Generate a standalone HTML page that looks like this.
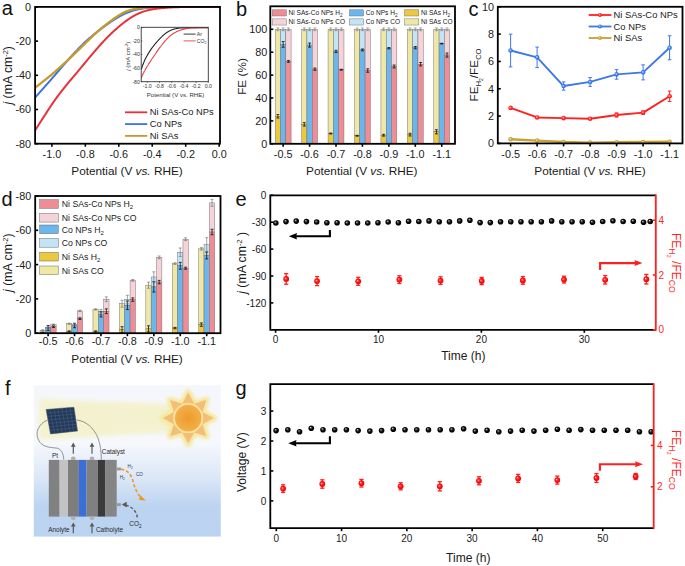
<!DOCTYPE html><html><head><meta charset="utf-8"><style>html,body{margin:0;padding:0;background:#fff;}svg{display:block;}</style></head><body><svg width="685" height="566" viewBox="0 0 685 566" font-family='"Liberation Sans", sans-serif'>
<defs>
<radialGradient id="ballg" cx="0.5" cy="0.5" r="0.5" fx="0.36" fy="0.33"><stop offset="0" stop-color="#f4f4f4"/><stop offset="0.25" stop-color="#555"/><stop offset="0.6" stop-color="#080808"/><stop offset="1" stop-color="#000"/></radialGradient>
<radialGradient id="redg" cx="0.5" cy="0.5" r="0.5" fx="0.35" fy="0.38"><stop offset="0" stop-color="#ffe8e8"/><stop offset="0.25" stop-color="#ff5050"/><stop offset="0.6" stop-color="#ff1010"/><stop offset="1" stop-color="#f00000"/></radialGradient>
<linearGradient id="skyg" x1="0" y1="0" x2="0" y2="1"><stop offset="0" stop-color="#f5f6fb"/><stop offset="0.38" stop-color="#f6f8fc"/><stop offset="0.6" stop-color="#dde8f7"/><stop offset="0.8" stop-color="#bcd4f1"/><stop offset="1" stop-color="#bad3f0"/></linearGradient>
<filter id="blur2" x="-20%" y="-50%" width="140%" height="200%"><feGaussianBlur stdDeviation="2.2"/></filter>
<filter id="blur15" x="-30%" y="-30%" width="160%" height="160%"><feGaussianBlur stdDeviation="1.8"/></filter>
<linearGradient id="beamg" x1="0" y1="0" x2="1" y2="0"><stop offset="0" stop-color="#f6f3c8" stop-opacity="0.6"/><stop offset="0.6" stop-color="#f7f0c0" stop-opacity="0.9"/><stop offset="1" stop-color="#f8eab0" stop-opacity="0.9"/></linearGradient>
<radialGradient id="halog" cx="0.5" cy="0.5" r="0.5"><stop offset="0" stop-color="#f9dc8a" stop-opacity="1"/><stop offset="0.7" stop-color="#f9e6a0" stop-opacity="0.9"/><stop offset="1" stop-color="#fbf0c0" stop-opacity="0"/></radialGradient>
<radialGradient id="sung" cx="0.5" cy="0.5" r="0.5"><stop offset="0" stop-color="#ef9a2c"/><stop offset="1" stop-color="#f3b04a"/></radialGradient>
</defs>
<rect x="0.00" y="0.00" width="685.00" height="566.00" fill="#ffffff" stroke="none" stroke-width="0" />
<rect x="33.80" y="385.30" width="187.00" height="151.30" fill="url(#skyg)" stroke="none" stroke-width="0" />
<path d="M39,399 C80,401 140,402 180,405 L180,432 C140,434 80,437 39,440 Z" stroke="none" stroke-width="1" fill="#f4f1c8" filter="url(#blur2)" opacity="0.85"/>
<g filter="url(#blur15)">
<path d="M188.20,392.60 L182.16,403.82 L194.24,403.82 Z M206.23,400.07 L194.03,403.74 L202.56,412.27 Z M213.70,418.10 L202.48,412.06 L202.48,424.14 Z M206.23,436.13 L202.56,423.93 L194.03,432.46 Z M188.20,443.60 L194.24,432.38 L182.16,432.38 Z M170.17,436.13 L182.37,432.46 L173.84,423.93 Z M162.70,418.10 L173.92,424.14 L173.92,412.06 Z M170.17,400.07 L173.84,412.27 L182.37,403.74 Z" stroke="#f5e8a0" stroke-width="6.5" fill="#f5e8a0" stroke-linejoin="round"/>
<circle cx="188.2" cy="418.1" r="18" fill="#f5e8a0"/>
</g>
<path d="M188.20,392.60 L182.16,403.82 L194.24,403.82 Z M206.23,400.07 L194.03,403.74 L202.56,412.27 Z M213.70,418.10 L202.48,412.06 L202.48,424.14 Z M206.23,436.13 L202.56,423.93 L194.03,432.46 Z M188.20,443.60 L194.24,432.38 L182.16,432.38 Z M170.17,436.13 L182.37,432.46 L173.84,423.93 Z M162.70,418.10 L173.92,424.14 L173.92,412.06 Z M170.17,400.07 L173.84,412.27 L182.37,403.74 Z" stroke="none" stroke-width="1" fill="#f3bf78" />
<circle cx="188.2" cy="418.1" r="15" fill="#f8e3a0"/>
<circle cx="188.2" cy="418.1" r="13.3" fill="url(#sung)"/>
<path d="M47.6,420 C38,424 35,433 38.5,440 C41,446 48,447.5 56,448 C61,448.5 63.5,453 63.7,459.5" stroke="#444" stroke-width="0.55" fill="none" />
<path d="M76.8,420 C86,421 94,428 98,438 C100.5,445 101.3,452 101.3,459.5" stroke="#444" stroke-width="0.55" fill="none" />
<path d="M46.1,409.5 L73.9,407.2 L77.5,431.0 L50.5,433.9 Z" stroke="#3a4d6a" stroke-width="0.5" fill="#23395a" />
<path d="M50.07,409.17 L54.36,433.49 M46.73,412.99 L74.41,410.60 M54.04,408.84 L58.21,433.07 M47.36,416.47 L74.93,414.00 M58.01,408.51 L62.07,432.66 M47.99,419.96 L75.44,417.40 M61.99,408.19 L65.93,432.24 M48.61,423.44 L75.96,420.80 M65.96,407.86 L69.79,431.83 M49.24,426.93 L76.47,424.20 M69.93,407.53 L73.64,431.41 M49.87,430.41 L76.99,427.60" stroke="#56698a" stroke-width="0.4" fill="none" />
<rect x="48.80" y="459.90" width="10.80" height="56.70" fill="#818181" stroke="none" stroke-width="0" />
<rect x="59.60" y="459.90" width="8.40" height="56.70" fill="#c3c3c3" stroke="none" stroke-width="0" />
<rect x="68.00" y="459.90" width="10.90" height="56.70" fill="#7d7d7d" stroke="none" stroke-width="0" />
<rect x="78.90" y="459.90" width="7.50" height="56.70" fill="#3a6fd8" stroke="none" stroke-width="0" />
<rect x="86.40" y="459.90" width="11.40" height="56.70" fill="#808080" stroke="none" stroke-width="0" />
<rect x="97.80" y="459.90" width="7.30" height="56.70" fill="#3a3a3a" stroke="none" stroke-width="0" />
<rect x="105.10" y="459.90" width="11.60" height="56.70" fill="#858585" stroke="none" stroke-width="0" />
<path d="M71.1,459.9 L71.1,457.4 Q73.3,455.8 75.5,457.4 L75.5,459.9 Z" stroke="none" stroke-width="1" fill="#b0b0b0" />
<path d="M71.1,516.6 L71.1,519.2 Q73.3,520.6 75.5,519.2 L75.5,516.6 Z" stroke="none" stroke-width="1" fill="#b0b0b0" />
<path d="M73.3,453.8 L73.3,445.6" stroke="#5a5a5a" stroke-width="1.2" fill="none" />
<path d="M70.89999999999999,446.8 L73.3,442.6 L75.7,446.8 Z" stroke="none" stroke-width="1" fill="#5a5a5a" />
<path d="M73.3,533.2 L73.3,525.4" stroke="#5a5a5a" stroke-width="1.2" fill="none" />
<path d="M70.89999999999999,526.6 L73.3,522.4 L75.7,526.6 Z" stroke="none" stroke-width="1" fill="#5a5a5a" />
<path d="M89.8,459.9 L89.8,457.4 Q92.0,455.8 94.2,457.4 L94.2,459.9 Z" stroke="none" stroke-width="1" fill="#b0b0b0" />
<path d="M89.8,516.6 L89.8,519.2 Q92.0,520.6 94.2,519.2 L94.2,516.6 Z" stroke="none" stroke-width="1" fill="#b0b0b0" />
<path d="M92.0,453.8 L92.0,445.6" stroke="#5a5a5a" stroke-width="1.2" fill="none" />
<path d="M89.6,446.8 L92.0,442.6 L94.4,446.8 Z" stroke="none" stroke-width="1" fill="#5a5a5a" />
<path d="M92.0,533.2 L92.0,525.4" stroke="#5a5a5a" stroke-width="1.2" fill="none" />
<path d="M89.6,526.6 L92.0,522.4 L94.4,526.6 Z" stroke="none" stroke-width="1" fill="#5a5a5a" />
<rect x="116.70" y="467.60" width="4.20" height="2.80" fill="#9a9a9a" stroke="none" stroke-width="0" />
<rect x="116.70" y="503.20" width="4.20" height="2.90" fill="#9a9a9a" stroke="none" stroke-width="0" />
<path d="M121,469.2 C127,469.8 131,474 133,481 C134.5,487 136.5,493 141,497.5" stroke="#eb9a26" stroke-width="1.6" fill="none" stroke-dasharray="3.2,2.1"/>
<path d="M140.2,495.3 L146.0,500.6 L139.0,500.0 Z" stroke="none" stroke-width="1" fill="#eb9a26" />
<path d="M137.3,517.5 C136.8,511.5 132,506.5 125.5,505.0" stroke="#5a5a5a" stroke-width="1.4" fill="none" stroke-dasharray="3,2"/>
<path d="M121.8,504.6 L126.8,501.8 L126.6,507.6 Z" stroke="none" stroke-width="1" fill="#5a5a5a" />
<text x="51.90" y="457.60" font-size="6.5" text-anchor="start" fill="#2a2a2a" >Pt</text>
<text x="101.80" y="453.60" font-size="6.4" text-anchor="start" fill="#2a2a2a" >Catalyst</text>
<text x="48.30" y="531.50" font-size="6.4" text-anchor="start" fill="#2a2a2a" >Anolyte</text>
<text x="96.00" y="531.50" font-size="6.4" text-anchor="start" fill="#2a2a2a" >Catholyte</text>
<text x="129.20" y="526.30" font-size="6.5" text-anchor="start" fill="#2a2a2a" >CO<tspan dy="1.5" font-size="4.6">2</tspan></text>
<text x="127.60" y="467.80" font-size="4.6" text-anchor="start" fill="#2c3a5a" >H<tspan dy="1" font-size="3.2">2</tspan></text>
<text x="119.70" y="479.40" font-size="4.6" text-anchor="start" fill="#2c3a5a" >H<tspan dy="1" font-size="3.2">2</tspan></text>
<text x="136.00" y="475.60" font-size="4.6" text-anchor="start" fill="#2c3a5a" >CO</text>
<clipPath id="clipa"><rect x="35.1" y="6.9" width="184.9" height="136.79999999999998"/></clipPath>
<g clip-path="url(#clipa)">
<path d="M34.50,98.20 L34.99,97.65 L35.49,97.10 L35.98,96.55 L36.47,96.00 L36.96,95.45 L37.46,94.90 L37.95,94.35 L38.44,93.80 L38.93,93.25 L39.42,92.70 L39.92,92.15 L40.41,91.60 L40.90,91.05 L41.39,90.50 L41.88,89.95 L42.37,89.40 L42.86,88.85 L43.35,88.30 L43.84,87.74 L44.33,87.19 L44.82,86.64 L45.31,86.09 L45.80,85.53 L46.29,84.98 L46.78,84.43 L47.26,83.87 L47.75,83.32 L48.24,82.76 L48.73,82.21 L49.21,81.65 L49.70,81.10 L50.19,80.54 L50.67,79.99 L51.16,79.43 L51.64,78.88 L52.13,78.32 L52.61,77.77 L53.10,77.21 L53.58,76.65 L54.07,76.09 L54.55,75.54 L55.03,74.98 L55.52,74.42 L56.00,73.86 L56.48,73.31 L56.96,72.75 L57.45,72.19 L57.93,71.63 L58.41,71.07 L58.89,70.51 L59.37,69.95 L59.85,69.39 L60.33,68.83 L60.81,68.27 L61.30,67.71 L61.78,67.15 L62.26,66.59 L62.74,66.03 L63.22,65.48 L63.71,64.92 L64.19,64.36 L64.68,63.80 L65.16,63.25 L65.65,62.69 L66.13,62.14 L66.62,61.58 L67.10,61.03 L67.59,60.47 L68.08,59.92 L68.57,59.36 L69.06,58.81 L69.55,58.26 L70.04,57.71 L70.53,57.16 L71.02,56.61 L71.51,56.06 L72.01,55.51 L72.50,54.96 L73.00,54.42 L73.50,53.87 L74.00,53.33 L74.50,52.79 L75.00,52.25 L75.50,51.71 L76.01,51.17 L76.52,50.63 L77.03,50.10 L77.54,49.57 L78.05,49.04 L78.57,48.51 L79.08,47.98 L79.60,47.46 L80.12,46.93 L80.64,46.41 L81.17,45.89 L81.69,45.37 L82.22,44.86 L82.75,44.34 L83.28,43.83 L83.81,43.32 L84.35,42.81 L84.88,42.31 L85.42,41.80 L85.97,41.30 L86.51,40.81 L87.06,40.31 L87.60,39.82 L88.16,39.33 L88.71,38.84 L89.26,38.35 L89.82,37.87 L90.38,37.39 L90.94,36.91 L91.51,36.43 L92.07,35.96 L92.64,35.49 L93.21,35.02 L93.78,34.56 L94.36,34.09 L94.93,33.63 L95.51,33.17 L96.09,32.71 L96.67,32.25 L97.25,31.80 L97.83,31.34 L98.41,30.89 L99.00,30.44 L99.58,29.99 L100.17,29.55 L100.76,29.10 L101.35,28.66 L101.94,28.22 L102.53,27.78 L103.13,27.34 L103.72,26.90 L104.32,26.47 L104.92,26.04 L105.52,25.61 L106.12,25.18 L106.72,24.75 L107.32,24.32 L107.92,23.89 L108.53,23.47 L109.13,23.05 L109.74,22.63 L110.35,22.21 L110.95,21.79 L111.57,21.38 L112.18,20.97 L112.79,20.56 L113.41,20.15 L114.02,19.75 L114.64,19.35 L115.27,18.95 L115.89,18.56 L116.52,18.17 L117.15,17.79 L117.78,17.41 L118.42,17.04 L119.06,16.67 L119.70,16.31 L120.35,15.96 L121.00,15.61 L121.65,15.27 L122.30,14.93 L122.96,14.60 L123.63,14.28 L124.29,13.96 L124.96,13.65 L125.63,13.35 L126.31,13.05 L126.99,12.76 L127.67,12.49 L128.35,12.21 L129.04,11.95 L129.73,11.70 L130.42,11.45 L131.12,11.21 L131.82,10.99 L132.52,10.77 L133.23,10.56 L133.94,10.36 L134.65,10.17 L135.36,9.99 L136.08,9.81 L136.80,9.65 L137.52,9.49 L138.24,9.34 L138.96,9.19 L139.68,9.06 L140.41,8.93 L141.14,8.80 L141.86,8.68 L142.59,8.57 L143.32,8.46 L144.05,8.35 L144.78,8.25 L145.51,8.16 L146.25,8.06 L146.98,7.97 L147.71,7.89 L148.44,7.81 L149.18,7.73 L149.91,7.66 L150.65,7.59 L151.38,7.53 L152.12,7.47 L152.85,7.42 L153.59,7.37 L154.32,7.32 L155.06,7.28 L155.80,7.24 L156.53,7.20 L157.27,7.17 L158.01,7.14 L158.75,7.11 L159.48,7.08 L160.22,7.06 L160.96,7.04 L161.70,7.02 L162.43,7.01 L163.17,6.99 L163.91,6.98 L164.65,6.96 L165.39,6.95 L166.12,6.94 L166.86,6.94 L167.60,6.93 L168.34,6.92 L169.08,6.91 L169.81,6.91 L170.55,6.90 L171.29,6.90 L172.03,6.90 L172.77,6.89 L173.50,6.89 L174.24,6.89 L174.98,6.88 L175.72,6.88 L176.46,6.88 L177.19,6.88 L177.93,6.88 L178.67,6.88 L179.41,6.88 L180.15,6.87 L180.88,6.87 L181.62,6.87 L182.36,6.87 L183.10,6.87 L183.84,6.87 L184.57,6.87 L185.31,6.87 L186.05,6.87 L186.79,6.87 L187.53,6.87 L188.26,6.87 L189.00,6.87 L189.74,6.87 L190.48,6.87 L191.22,6.87 L191.95,6.87 L192.69,6.87 L193.43,6.87 L194.17,6.87 L194.91,6.87 L195.65,6.88 L196.38,6.88 L197.12,6.88 L197.86,6.88 L198.60,6.88 L199.34,6.88 L200.07,6.88 L200.81,6.88 L201.55,6.88 L202.29,6.88 L203.03,6.88 L203.76,6.88 L204.50,6.88 L205.24,6.88 L205.98,6.89 L206.72,6.89 L207.45,6.89 L208.19,6.89 L208.93,6.89 L209.67,6.89 L210.41,6.89 L211.14,6.89 L211.88,6.89 L212.62,6.89 L213.36,6.89 L214.10,6.89 L214.83,6.90 L215.57,6.90 L216.31,6.90 L217.05,6.90 L217.79,6.90 L218.52,6.90 L219.26,6.90 L220.00,6.90" stroke="#3b74e2" stroke-width="2.0" fill="none" />
<path d="M34.50,88.20 L35.07,87.76 L35.63,87.32 L36.20,86.88 L36.76,86.44 L37.33,86.00 L37.89,85.56 L38.46,85.12 L39.02,84.68 L39.59,84.24 L40.15,83.80 L40.72,83.35 L41.28,82.91 L41.84,82.47 L42.41,82.02 L42.97,81.58 L43.53,81.13 L44.09,80.69 L44.65,80.24 L45.21,79.79 L45.77,79.35 L46.33,78.90 L46.89,78.45 L47.45,78.00 L48.00,77.55 L48.56,77.10 L49.12,76.64 L49.67,76.19 L50.23,75.74 L50.78,75.28 L51.33,74.82 L51.88,74.37 L52.43,73.91 L52.98,73.45 L53.53,72.98 L54.07,72.52 L54.62,72.05 L55.16,71.59 L55.71,71.12 L56.25,70.65 L56.79,70.18 L57.32,69.70 L57.86,69.23 L58.40,68.75 L58.93,68.27 L59.46,67.80 L60.00,67.32 L60.53,66.84 L61.06,66.35 L61.59,65.87 L62.12,65.39 L62.65,64.90 L63.17,64.42 L63.70,63.93 L64.23,63.45 L64.75,62.96 L65.28,62.47 L65.80,61.98 L66.32,61.49 L66.85,61.00 L67.37,60.51 L67.89,60.02 L68.41,59.53 L68.94,59.04 L69.46,58.55 L69.98,58.05 L70.50,57.56 L71.01,57.06 L71.53,56.57 L72.05,56.07 L72.57,55.58 L73.09,55.08 L73.60,54.59 L74.12,54.09 L74.63,53.59 L75.15,53.09 L75.66,52.59 L76.18,52.10 L76.69,51.60 L77.21,51.10 L77.72,50.60 L78.23,50.10 L78.75,49.59 L79.26,49.09 L79.77,48.59 L80.28,48.09 L80.79,47.59 L81.30,47.08 L81.81,46.58 L82.32,46.08 L82.84,45.58 L83.35,45.08 L83.86,44.57 L84.37,44.07 L84.88,43.57 L85.40,43.07 L85.91,42.57 L86.42,42.07 L86.94,41.57 L87.45,41.07 L87.97,40.57 L88.48,40.07 L89.00,39.58 L89.51,39.08 L90.03,38.58 L90.55,38.09 L91.06,37.59 L91.58,37.10 L92.10,36.60 L92.62,36.11 L93.15,35.62 L93.67,35.13 L94.19,34.64 L94.72,34.16 L95.25,33.67 L95.78,33.19 L96.31,32.71 L96.84,32.23 L97.38,31.76 L97.92,31.28 L98.46,30.81 L99.00,30.34 L99.54,29.88 L100.09,29.41 L100.64,28.95 L101.19,28.49 L101.74,28.04 L102.29,27.58 L102.85,27.13 L103.41,26.68 L103.97,26.23 L104.53,25.78 L105.09,25.34 L105.65,24.89 L106.21,24.45 L106.78,24.01 L107.35,23.57 L107.91,23.14 L108.48,22.70 L109.05,22.27 L109.62,21.83 L110.20,21.40 L110.77,20.98 L111.35,20.55 L111.93,20.13 L112.51,19.71 L113.09,19.29 L113.67,18.87 L114.25,18.46 L114.84,18.04 L115.43,17.63 L116.02,17.23 L116.61,16.83 L117.21,16.43 L117.80,16.03 L118.40,15.64 L119.01,15.26 L119.61,14.88 L120.23,14.51 L120.84,14.14 L121.46,13.78 L122.08,13.44 L122.71,13.10 L123.34,12.77 L123.98,12.46 L124.63,12.15 L125.28,11.86 L125.93,11.58 L126.59,11.32 L127.26,11.06 L127.93,10.82 L128.61,10.59 L129.29,10.38 L129.97,10.17 L130.66,9.98 L131.35,9.80 L132.04,9.63 L132.74,9.47 L133.43,9.31 L134.14,9.17 L134.84,9.04 L135.54,8.91 L136.25,8.79 L136.95,8.68 L137.66,8.57 L138.37,8.47 L139.08,8.37 L139.79,8.28 L140.50,8.19 L141.21,8.11 L141.92,8.03 L142.64,7.96 L143.35,7.89 L144.06,7.82 L144.78,7.75 L145.49,7.69 L146.20,7.62 L146.92,7.57 L147.63,7.51 L148.35,7.46 L149.06,7.40 L149.78,7.36 L150.49,7.31 L151.21,7.27 L151.92,7.23 L152.64,7.20 L153.35,7.17 L154.07,7.14 L154.78,7.12 L155.50,7.10 L156.22,7.08 L156.93,7.06 L157.65,7.05 L158.37,7.04 L159.08,7.02 L159.80,7.02 L160.51,7.01 L161.23,7.00 L161.95,6.99 L162.66,6.99 L163.38,6.98 L164.10,6.98 L164.81,6.97 L165.53,6.97 L166.25,6.96 L166.96,6.96 L167.68,6.96 L168.40,6.95 L169.11,6.95 L169.83,6.95 L170.55,6.95 L171.26,6.94 L171.98,6.94 L172.70,6.94 L173.42,6.94 L174.13,6.94 L174.85,6.93 L175.57,6.93 L176.28,6.93 L177.00,6.93 L177.72,6.93 L178.43,6.93 L179.15,6.93 L179.87,6.93 L180.58,6.92 L181.30,6.92 L182.02,6.92 L182.73,6.92 L183.45,6.92 L184.17,6.92 L184.88,6.92 L185.60,6.92 L186.32,6.92 L187.03,6.92 L187.75,6.92 L188.47,6.91 L189.18,6.91 L189.90,6.91 L190.62,6.91 L191.33,6.91 L192.05,6.91 L192.77,6.91 L193.48,6.91 L194.20,6.91 L194.92,6.91 L195.63,6.91 L196.35,6.91 L197.07,6.91 L197.78,6.91 L198.50,6.91 L199.22,6.91 L199.93,6.91 L200.65,6.91 L201.37,6.91 L202.08,6.91 L202.80,6.91 L203.52,6.91 L204.23,6.91 L204.95,6.91 L205.67,6.91 L206.38,6.91 L207.10,6.91 L207.82,6.91 L208.53,6.91 L209.25,6.91 L209.97,6.91 L210.68,6.91 L211.40,6.91 L212.12,6.90 L212.83,6.90 L213.55,6.90 L214.27,6.90 L214.98,6.90 L215.70,6.90 L216.42,6.90 L217.13,6.90 L217.85,6.90 L218.57,6.90 L219.28,6.90 L220.00,6.90" stroke="#c49b2c" stroke-width="2.3" fill="none" />
<path d="M35.10,130.40 L35.53,129.72 L35.96,129.04 L36.39,128.37 L36.82,127.69 L37.25,127.01 L37.67,126.34 L38.10,125.66 L38.53,124.98 L38.96,124.30 L39.39,123.63 L39.82,122.95 L40.26,122.27 L40.69,121.60 L41.12,120.92 L41.55,120.25 L41.98,119.57 L42.42,118.90 L42.85,118.22 L43.28,117.55 L43.72,116.87 L44.15,116.20 L44.59,115.53 L45.03,114.85 L45.46,114.18 L45.90,113.51 L46.34,112.84 L46.78,112.16 L47.21,111.49 L47.65,110.82 L48.09,110.15 L48.53,109.48 L48.97,108.81 L49.41,108.14 L49.86,107.47 L50.30,106.80 L50.75,106.14 L51.19,105.47 L51.64,104.81 L52.09,104.14 L52.54,103.48 L52.99,102.82 L53.45,102.16 L53.91,101.50 L54.37,100.84 L54.83,100.19 L55.29,99.53 L55.76,98.88 L56.23,98.23 L56.70,97.58 L57.18,96.94 L57.65,96.29 L58.13,95.65 L58.61,95.01 L59.10,94.37 L59.58,93.73 L60.07,93.09 L60.56,92.46 L61.05,91.82 L61.54,91.19 L62.04,90.56 L62.53,89.93 L63.03,89.30 L63.53,88.67 L64.03,88.04 L64.53,87.42 L65.03,86.79 L65.53,86.17 L66.04,85.55 L66.54,84.92 L67.05,84.30 L67.56,83.68 L68.07,83.07 L68.59,82.45 L69.10,81.83 L69.62,81.22 L70.13,80.61 L70.65,79.99 L71.17,79.38 L71.69,78.77 L72.20,78.16 L72.72,77.55 L73.24,76.94 L73.76,76.32 L74.28,75.71 L74.80,75.10 L75.31,74.49 L75.83,73.87 L76.35,73.26 L76.86,72.64 L77.38,72.03 L77.89,71.41 L78.40,70.80 L78.92,70.18 L79.43,69.56 L79.94,68.95 L80.45,68.33 L80.96,67.71 L81.47,67.09 L81.98,66.47 L82.49,65.86 L83.01,65.24 L83.52,64.62 L84.03,64.00 L84.54,63.38 L85.05,62.77 L85.57,62.15 L86.08,61.53 L86.59,60.92 L87.10,60.30 L87.62,59.69 L88.13,59.07 L88.65,58.45 L89.16,57.84 L89.68,57.22 L90.19,56.61 L90.71,56.00 L91.22,55.38 L91.74,54.77 L92.26,54.16 L92.78,53.54 L93.29,52.93 L93.81,52.32 L94.34,51.71 L94.86,51.10 L95.38,50.50 L95.90,49.89 L96.43,49.28 L96.96,48.68 L97.49,48.08 L98.02,47.47 L98.55,46.87 L99.08,46.27 L99.61,45.67 L100.15,45.08 L100.68,44.48 L101.22,43.89 L101.76,43.29 L102.30,42.70 L102.84,42.11 L103.38,41.52 L103.93,40.93 L104.48,40.34 L105.03,39.76 L105.58,39.18 L106.13,38.60 L106.69,38.02 L107.25,37.45 L107.81,36.88 L108.37,36.31 L108.94,35.74 L109.51,35.18 L110.09,34.62 L110.67,34.06 L111.25,33.51 L111.83,32.96 L112.42,32.41 L113.00,31.87 L113.60,31.33 L114.19,30.79 L114.79,30.25 L115.39,29.72 L115.99,29.19 L116.59,28.66 L117.19,28.13 L117.80,27.61 L118.41,27.09 L119.02,26.57 L119.63,26.05 L120.25,25.54 L120.87,25.03 L121.49,24.52 L122.11,24.02 L122.74,23.52 L123.37,23.02 L124.00,22.53 L124.64,22.05 L125.28,21.56 L125.92,21.09 L126.57,20.61 L127.22,20.14 L127.87,19.68 L128.53,19.23 L129.20,18.78 L129.86,18.33 L130.53,17.90 L131.21,17.47 L131.89,17.05 L132.58,16.64 L133.27,16.23 L133.97,15.84 L134.67,15.46 L135.38,15.08 L136.09,14.71 L136.80,14.36 L137.52,14.01 L138.25,13.67 L138.98,13.34 L139.71,13.02 L140.45,12.72 L141.19,12.42 L141.94,12.13 L142.69,11.86 L143.45,11.59 L144.21,11.34 L144.97,11.09 L145.73,10.86 L146.50,10.64 L147.27,10.43 L148.05,10.23 L148.82,10.04 L149.60,9.86 L150.39,9.69 L151.17,9.54 L151.96,9.39 L152.75,9.26 L153.54,9.13 L154.33,9.01 L155.12,8.90 L155.92,8.80 L156.71,8.70 L157.51,8.60 L158.31,8.51 L159.10,8.43 L159.90,8.34 L160.70,8.26 L161.50,8.19 L162.29,8.11 L163.09,8.04 L163.89,7.97 L164.69,7.91 L165.49,7.84 L166.29,7.78 L167.09,7.72 L167.89,7.66 L168.69,7.61 L169.49,7.55 L170.29,7.50 L171.09,7.45 L171.89,7.41 L172.69,7.37 L173.49,7.33 L174.29,7.29 L175.09,7.26 L175.90,7.23 L176.70,7.20 L177.50,7.18 L178.30,7.15 L179.10,7.13 L179.90,7.12 L180.70,7.10 L181.51,7.09 L182.31,7.07 L183.11,7.06 L183.91,7.05 L184.71,7.04 L185.52,7.03 L186.32,7.02 L187.12,7.02 L187.92,7.01 L188.72,7.00 L189.53,7.00 L190.33,6.99 L191.13,6.99 L191.93,6.98 L192.73,6.98 L193.54,6.97 L194.34,6.97 L195.14,6.97 L195.94,6.96 L196.74,6.96 L197.55,6.96 L198.35,6.95 L199.15,6.95 L199.95,6.95 L200.75,6.95 L201.55,6.94 L202.36,6.94 L203.16,6.94 L203.96,6.94 L204.76,6.94 L205.56,6.93 L206.37,6.93 L207.17,6.93 L207.97,6.93 L208.77,6.93 L209.57,6.92 L210.38,6.92 L211.18,6.92 L211.98,6.92 L212.78,6.92 L213.58,6.92 L214.39,6.91 L215.19,6.91 L215.99,6.91 L216.79,6.91 L217.59,6.91 L218.40,6.90 L219.20,6.90 L220.00,6.90" stroke="#e8313a" stroke-width="2.0" fill="none" />
</g>
<rect x="35.10" y="6.90" width="184.90" height="136.80" fill="none" stroke="#000" stroke-width="1.8" />
<line x1="35.10" y1="6.90" x2="38.10" y2="6.90" stroke="#000" stroke-width="1.6" />
<text x="31.00" y="10.80" font-size="10.8" text-anchor="end" fill="#1a1a1a" >0</text>
<line x1="35.10" y1="41.10" x2="38.10" y2="41.10" stroke="#000" stroke-width="1.6" />
<text x="31.00" y="45.00" font-size="10.8" text-anchor="end" fill="#1a1a1a" >-20</text>
<line x1="35.10" y1="75.30" x2="38.10" y2="75.30" stroke="#000" stroke-width="1.6" />
<text x="31.00" y="79.20" font-size="10.8" text-anchor="end" fill="#1a1a1a" >-40</text>
<line x1="35.10" y1="109.50" x2="38.10" y2="109.50" stroke="#000" stroke-width="1.6" />
<text x="31.00" y="113.40" font-size="10.8" text-anchor="end" fill="#1a1a1a" >-60</text>
<line x1="35.10" y1="143.70" x2="38.10" y2="143.70" stroke="#000" stroke-width="1.6" />
<text x="31.00" y="147.60" font-size="10.8" text-anchor="end" fill="#1a1a1a" >-80</text>
<line x1="51.90" y1="143.70" x2="51.90" y2="146.70" stroke="#000" stroke-width="1.6" />
<text x="51.90" y="157.60" font-size="10.8" text-anchor="middle" fill="#1a1a1a" >-1.0</text>
<line x1="85.35" y1="143.70" x2="85.35" y2="146.70" stroke="#000" stroke-width="1.6" />
<text x="85.35" y="157.60" font-size="10.8" text-anchor="middle" fill="#1a1a1a" >-0.8</text>
<line x1="118.80" y1="143.70" x2="118.80" y2="146.70" stroke="#000" stroke-width="1.6" />
<text x="118.80" y="157.60" font-size="10.8" text-anchor="middle" fill="#1a1a1a" >-0.6</text>
<line x1="152.25" y1="143.70" x2="152.25" y2="146.70" stroke="#000" stroke-width="1.6" />
<text x="152.25" y="157.60" font-size="10.8" text-anchor="middle" fill="#1a1a1a" >-0.4</text>
<line x1="185.70" y1="143.70" x2="185.70" y2="146.70" stroke="#000" stroke-width="1.6" />
<text x="185.70" y="157.60" font-size="10.8" text-anchor="middle" fill="#1a1a1a" >-0.2</text>
<line x1="219.15" y1="143.70" x2="219.15" y2="146.70" stroke="#000" stroke-width="1.6" />
<text x="219.15" y="157.60" font-size="10.8" text-anchor="middle" fill="#1a1a1a" >0.0</text>
<text x="127.00" y="174.80" font-size="11.8" text-anchor="middle" fill="#1a1a1a" >Potential (V <tspan font-style="italic">vs.</tspan> RHE)</text>
<text transform="translate(12.3,75.3) rotate(-90)" font-size="12.3" text-anchor="middle" fill="#1a1a1a"><tspan font-style="italic">j</tspan> (mA cm<tspan dy="-4.4" font-size="7.4">-2</tspan><tspan dy="4.4">)</tspan></text>
<line x1="125.00" y1="112.30" x2="147.30" y2="112.30" stroke="#e8313a" stroke-width="1.8" />
<text x="149.80" y="115.40" font-size="9.35" text-anchor="start" fill="#1a1a1a" >Ni SAs-Co NPs</text>
<line x1="125.00" y1="124.10" x2="147.30" y2="124.10" stroke="#3b74e2" stroke-width="1.8" />
<text x="149.80" y="127.20" font-size="9.35" text-anchor="start" fill="#1a1a1a" >Co NPs</text>
<line x1="125.00" y1="135.90" x2="147.30" y2="135.90" stroke="#c49b2c" stroke-width="1.8" />
<text x="149.80" y="139.00" font-size="9.35" text-anchor="start" fill="#1a1a1a" >Ni SAs</text>
<clipPath id="clipi"><rect x="141.2" y="27.3" width="67.10000000000002" height="54.400000000000006"/></clipPath>
<g clip-path="url(#clipi)">
<path d="M141.00,69.80 L141.10,69.52 L141.21,69.25 L141.31,68.97 L141.41,68.69 L141.52,68.41 L141.62,68.14 L141.72,67.86 L141.83,67.58 L141.93,67.30 L142.03,67.03 L142.14,66.75 L142.24,66.47 L142.35,66.19 L142.45,65.92 L142.55,65.64 L142.66,65.36 L142.76,65.09 L142.87,64.81 L142.97,64.53 L143.08,64.26 L143.19,63.98 L143.29,63.71 L143.40,63.43 L143.51,63.15 L143.62,62.88 L143.73,62.60 L143.84,62.33 L143.95,62.06 L144.07,61.78 L144.18,61.51 L144.30,61.24 L144.41,60.97 L144.53,60.69 L144.65,60.42 L144.77,60.15 L144.89,59.88 L145.01,59.61 L145.14,59.35 L145.26,59.08 L145.39,58.81 L145.52,58.54 L145.65,58.28 L145.78,58.01 L145.92,57.75 L146.05,57.49 L146.19,57.23 L146.33,56.96 L146.47,56.70 L146.61,56.44 L146.75,56.18 L146.89,55.92 L147.04,55.67 L147.18,55.41 L147.33,55.15 L147.48,54.90 L147.63,54.64 L147.78,54.39 L147.93,54.13 L148.08,53.88 L148.23,53.62 L148.39,53.37 L148.54,53.12 L148.70,52.87 L148.86,52.62 L149.01,52.37 L149.17,52.12 L149.33,51.87 L149.49,51.62 L149.65,51.37 L149.81,51.12 L149.98,50.88 L150.14,50.63 L150.30,50.38 L150.47,50.14 L150.64,49.89 L150.80,49.65 L150.97,49.40 L151.14,49.16 L151.31,48.92 L151.48,48.68 L151.65,48.44 L151.82,48.19 L152.00,47.96 L152.17,47.72 L152.35,47.48 L152.53,47.24 L152.70,47.01 L152.88,46.77 L153.06,46.53 L153.24,46.30 L153.42,46.07 L153.61,45.83 L153.79,45.60 L153.97,45.37 L154.16,45.14 L154.35,44.91 L154.53,44.68 L154.72,44.45 L154.91,44.22 L155.09,43.99 L155.28,43.76 L155.47,43.53 L155.66,43.31 L155.85,43.08 L156.04,42.85 L156.23,42.63 L156.42,42.40 L156.62,42.18 L156.81,41.95 L157.00,41.73 L157.20,41.51 L157.39,41.28 L157.59,41.06 L157.79,40.84 L157.98,40.62 L158.18,40.40 L158.38,40.18 L158.58,39.96 L158.78,39.74 L158.98,39.53 L159.18,39.31 L159.38,39.09 L159.59,38.88 L159.79,38.67 L160.00,38.45 L160.20,38.24 L160.41,38.03 L160.62,37.82 L160.83,37.61 L161.04,37.40 L161.25,37.19 L161.46,36.98 L161.67,36.78 L161.88,36.57 L162.10,36.37 L162.31,36.17 L162.53,35.96 L162.74,35.76 L162.96,35.56 L163.18,35.36 L163.40,35.17 L163.62,34.97 L163.85,34.78 L164.07,34.58 L164.30,34.39 L164.52,34.20 L164.75,34.02 L164.98,33.83 L165.21,33.65 L165.45,33.47 L165.68,33.29 L165.92,33.11 L166.16,32.94 L166.40,32.77 L166.64,32.60 L166.89,32.43 L167.13,32.27 L167.38,32.11 L167.63,31.95 L167.88,31.80 L168.14,31.65 L168.39,31.50 L168.65,31.36 L168.91,31.22 L169.17,31.08 L169.43,30.94 L169.69,30.81 L169.96,30.68 L170.23,30.55 L170.49,30.43 L170.76,30.31 L171.04,30.19 L171.31,30.08 L171.58,29.97 L171.86,29.86 L172.13,29.76 L172.41,29.66 L172.69,29.56 L172.97,29.47 L173.25,29.38 L173.53,29.29 L173.81,29.20 L174.10,29.12 L174.38,29.04 L174.67,28.97 L174.95,28.89 L175.24,28.82 L175.53,28.76 L175.82,28.69 L176.10,28.63 L176.39,28.56 L176.68,28.51 L176.97,28.45 L177.26,28.40 L177.55,28.34 L177.84,28.30 L178.14,28.25 L178.43,28.21 L178.72,28.17 L179.01,28.13 L179.30,28.10 L179.60,28.07 L179.89,28.04 L180.19,28.02 L180.48,28.00 L180.78,27.98 L181.07,27.97 L181.37,27.95 L181.66,27.94 L181.96,27.93 L182.25,27.92 L182.55,27.91 L182.84,27.90 L183.14,27.89 L183.44,27.89 L183.73,27.88 L184.03,27.88 L184.32,27.87 L184.62,27.87 L184.91,27.86 L185.21,27.86 L185.51,27.85 L185.80,27.85 L186.10,27.85 L186.39,27.84 L186.69,27.84 L186.99,27.84 L187.28,27.83 L187.58,27.83 L187.87,27.83 L188.17,27.82 L188.47,27.82 L188.76,27.82 L189.06,27.82 L189.35,27.81 L189.65,27.81 L189.95,27.81 L190.24,27.81 L190.54,27.80 L190.83,27.80 L191.13,27.80 L191.43,27.80 L191.72,27.80 L192.02,27.79 L192.32,27.79 L192.61,27.79 L192.91,27.79 L193.20,27.78 L193.50,27.78 L193.80,27.78 L194.09,27.78 L194.39,27.78 L194.68,27.78 L194.98,27.77 L195.28,27.77 L195.57,27.77 L195.87,27.77 L196.16,27.77 L196.46,27.76 L196.76,27.76 L197.05,27.76 L197.35,27.76 L197.64,27.76 L197.94,27.76 L198.24,27.75 L198.53,27.75 L198.83,27.75 L199.12,27.75 L199.42,27.75 L199.72,27.75 L200.01,27.75 L200.31,27.74 L200.60,27.74 L200.90,27.74 L201.20,27.74 L201.49,27.74 L201.79,27.74 L202.08,27.73 L202.38,27.73 L202.68,27.73 L202.97,27.73 L203.27,27.73 L203.56,27.73 L203.86,27.73 L204.16,27.72 L204.45,27.72 L204.75,27.72 L205.04,27.72 L205.34,27.72 L205.64,27.72 L205.93,27.71 L206.23,27.71 L206.52,27.71 L206.82,27.71 L207.12,27.71 L207.41,27.71 L207.71,27.70 L208.00,27.70 L208.30,27.70" stroke="#222" stroke-width="1.1" fill="none" />
<path d="M141.00,78.20 L141.13,77.92 L141.26,77.65 L141.40,77.37 L141.53,77.09 L141.66,76.82 L141.79,76.54 L141.92,76.26 L142.06,75.99 L142.19,75.71 L142.32,75.43 L142.45,75.16 L142.59,74.88 L142.72,74.61 L142.85,74.33 L142.99,74.05 L143.12,73.78 L143.26,73.50 L143.39,73.23 L143.53,72.95 L143.67,72.68 L143.80,72.41 L143.94,72.13 L144.08,71.86 L144.22,71.59 L144.36,71.31 L144.50,71.04 L144.65,70.77 L144.79,70.50 L144.94,70.23 L145.08,69.96 L145.23,69.69 L145.38,69.43 L145.53,69.16 L145.68,68.89 L145.83,68.63 L145.98,68.36 L146.14,68.10 L146.29,67.83 L146.45,67.57 L146.61,67.30 L146.76,67.04 L146.92,66.78 L147.08,66.52 L147.24,66.26 L147.40,66.00 L147.57,65.74 L147.73,65.48 L147.89,65.22 L148.05,64.96 L148.22,64.70 L148.38,64.44 L148.55,64.18 L148.71,63.92 L148.88,63.67 L149.04,63.41 L149.21,63.15 L149.38,62.89 L149.54,62.63 L149.71,62.38 L149.88,62.12 L150.04,61.86 L150.21,61.61 L150.38,61.35 L150.54,61.09 L150.71,60.84 L150.88,60.58 L151.05,60.32 L151.21,60.07 L151.38,59.81 L151.55,59.55 L151.72,59.30 L151.89,59.04 L152.06,58.78 L152.23,58.53 L152.39,58.27 L152.56,58.02 L152.73,57.76 L152.90,57.51 L153.08,57.25 L153.25,57.00 L153.42,56.74 L153.59,56.49 L153.76,56.24 L153.93,55.98 L154.10,55.73 L154.28,55.48 L154.45,55.22 L154.62,54.97 L154.79,54.72 L154.97,54.46 L155.14,54.21 L155.31,53.96 L155.49,53.70 L155.66,53.45 L155.84,53.20 L156.01,52.95 L156.18,52.70 L156.36,52.44 L156.53,52.19 L156.71,51.94 L156.88,51.69 L157.06,51.44 L157.23,51.19 L157.41,50.94 L157.59,50.68 L157.76,50.43 L157.94,50.18 L158.12,49.93 L158.29,49.68 L158.47,49.43 L158.65,49.18 L158.83,48.93 L159.01,48.69 L159.19,48.44 L159.37,48.19 L159.55,47.94 L159.73,47.69 L159.91,47.45 L160.09,47.20 L160.27,46.95 L160.46,46.71 L160.64,46.46 L160.83,46.22 L161.01,45.97 L161.20,45.73 L161.38,45.49 L161.57,45.24 L161.76,45.00 L161.94,44.76 L162.13,44.52 L162.32,44.28 L162.51,44.04 L162.70,43.79 L162.89,43.56 L163.08,43.32 L163.28,43.08 L163.47,42.84 L163.66,42.60 L163.86,42.37 L164.05,42.13 L164.25,41.89 L164.45,41.66 L164.65,41.43 L164.85,41.19 L165.05,40.96 L165.25,40.73 L165.45,40.50 L165.66,40.27 L165.86,40.05 L166.07,39.82 L166.28,39.60 L166.48,39.37 L166.70,39.15 L166.91,38.93 L167.12,38.71 L167.34,38.49 L167.55,38.28 L167.77,38.06 L167.99,37.85 L168.21,37.63 L168.43,37.42 L168.65,37.21 L168.88,37.00 L169.10,36.80 L169.33,36.59 L169.56,36.39 L169.79,36.19 L170.03,35.99 L170.26,35.79 L170.50,35.60 L170.73,35.41 L170.97,35.22 L171.21,35.03 L171.46,34.84 L171.70,34.66 L171.95,34.48 L172.20,34.30 L172.45,34.12 L172.70,33.95 L172.95,33.78 L173.21,33.61 L173.46,33.44 L173.72,33.28 L173.98,33.12 L174.25,32.96 L174.51,32.81 L174.78,32.66 L175.04,32.51 L175.31,32.36 L175.58,32.22 L175.85,32.08 L176.12,31.94 L176.40,31.80 L176.67,31.67 L176.95,31.54 L177.23,31.41 L177.51,31.28 L177.79,31.16 L178.07,31.04 L178.35,30.92 L178.63,30.81 L178.92,30.70 L179.21,30.59 L179.49,30.48 L179.78,30.38 L180.07,30.27 L180.36,30.17 L180.65,30.08 L180.94,29.98 L181.23,29.89 L181.52,29.80 L181.82,29.71 L182.11,29.63 L182.41,29.55 L182.70,29.47 L183.00,29.39 L183.29,29.31 L183.59,29.24 L183.89,29.17 L184.19,29.10 L184.49,29.03 L184.78,28.96 L185.08,28.90 L185.38,28.84 L185.68,28.78 L185.99,28.72 L186.29,28.66 L186.59,28.61 L186.89,28.56 L187.19,28.51 L187.49,28.46 L187.80,28.41 L188.10,28.37 L188.40,28.32 L188.71,28.28 L189.01,28.24 L189.31,28.20 L189.62,28.17 L189.92,28.14 L190.23,28.11 L190.53,28.08 L190.84,28.05 L191.14,28.03 L191.45,28.01 L191.75,27.99 L192.06,27.97 L192.36,27.95 L192.67,27.94 L192.98,27.92 L193.28,27.91 L193.59,27.90 L193.90,27.89 L194.20,27.88 L194.51,27.87 L194.81,27.86 L195.12,27.86 L195.43,27.85 L195.73,27.84 L196.04,27.84 L196.35,27.83 L196.65,27.83 L196.96,27.82 L197.27,27.82 L197.57,27.81 L197.88,27.81 L198.19,27.80 L198.49,27.80 L198.80,27.80 L199.10,27.79 L199.41,27.79 L199.72,27.78 L200.02,27.78 L200.33,27.78 L200.64,27.77 L200.94,27.77 L201.25,27.77 L201.56,27.76 L201.86,27.76 L202.17,27.76 L202.48,27.76 L202.78,27.75 L203.09,27.75 L203.40,27.75 L203.70,27.74 L204.01,27.74 L204.32,27.74 L204.62,27.73 L204.93,27.73 L205.23,27.73 L205.54,27.73 L205.85,27.72 L206.15,27.72 L206.46,27.72 L206.77,27.71 L207.07,27.71 L207.38,27.71 L207.69,27.71 L207.99,27.70 L208.30,27.70" stroke="#ee3a42" stroke-width="1.1" fill="none" />
</g>
<rect x="141.20" y="27.30" width="67.10" height="54.40" fill="none" stroke="#333" stroke-width="0.9" />
<line x1="141.20" y1="27.30" x2="142.40" y2="27.30" stroke="#333" stroke-width="0.7" />
<text x="139.90" y="29.20" font-size="5.2" text-anchor="end" fill="#333" >0</text>
<line x1="141.20" y1="40.90" x2="142.40" y2="40.90" stroke="#333" stroke-width="0.7" />
<text x="139.90" y="42.80" font-size="5.2" text-anchor="end" fill="#333" >-20</text>
<line x1="141.20" y1="54.50" x2="142.40" y2="54.50" stroke="#333" stroke-width="0.7" />
<text x="139.90" y="56.40" font-size="5.2" text-anchor="end" fill="#333" >-40</text>
<line x1="141.20" y1="68.10" x2="142.40" y2="68.10" stroke="#333" stroke-width="0.7" />
<text x="139.90" y="70.00" font-size="5.2" text-anchor="end" fill="#333" >-60</text>
<line x1="141.20" y1="81.70" x2="142.40" y2="81.70" stroke="#333" stroke-width="0.7" />
<text x="139.90" y="83.60" font-size="5.2" text-anchor="end" fill="#333" >-80</text>
<line x1="147.30" y1="81.70" x2="147.30" y2="82.90" stroke="#333" stroke-width="0.7" />
<text x="147.30" y="87.60" font-size="5.2" text-anchor="middle" fill="#333" >-1.0</text>
<line x1="159.50" y1="81.70" x2="159.50" y2="82.90" stroke="#333" stroke-width="0.7" />
<text x="159.50" y="87.60" font-size="5.2" text-anchor="middle" fill="#333" >-0.8</text>
<line x1="171.70" y1="81.70" x2="171.70" y2="82.90" stroke="#333" stroke-width="0.7" />
<text x="171.70" y="87.60" font-size="5.2" text-anchor="middle" fill="#333" >-0.6</text>
<line x1="183.90" y1="81.70" x2="183.90" y2="82.90" stroke="#333" stroke-width="0.7" />
<text x="183.90" y="87.60" font-size="5.2" text-anchor="middle" fill="#333" >-0.4</text>
<line x1="196.10" y1="81.70" x2="196.10" y2="82.90" stroke="#333" stroke-width="0.7" />
<text x="196.10" y="87.60" font-size="5.2" text-anchor="middle" fill="#333" >-0.2</text>
<line x1="208.30" y1="81.70" x2="208.30" y2="82.90" stroke="#333" stroke-width="0.7" />
<text x="208.30" y="87.60" font-size="5.2" text-anchor="middle" fill="#333" >0.0</text>
<text x="175.50" y="96.50" font-size="6.1" text-anchor="middle" fill="#333" >Potential (V vs. RHE)</text>
<text transform="translate(130.0,56.2) rotate(-90)" font-size="6.0" text-anchor="middle" fill="#333"><tspan font-style="italic">j</tspan> (mA cm<tspan dy="-2.2" font-size="4">-2</tspan><tspan dy="2.2">)</tspan></text>
<line x1="183.60" y1="34.10" x2="195.60" y2="34.10" stroke="#222" stroke-width="0.9" />
<line x1="183.60" y1="40.90" x2="195.60" y2="40.90" stroke="#ee4046" stroke-width="0.9" />
<text x="196.80" y="36.00" font-size="5.2" text-anchor="start" fill="#333" >Ar</text>
<text x="196.80" y="42.80" font-size="5.2" text-anchor="start" fill="#333" >CO<tspan dy="1" font-size="3.6">2</tspan></text>
<rect x="275.20" y="29.30" width="5.30" height="87.02" fill="#efe7a6" stroke="#6a6a6a" stroke-width="0.45" />
<rect x="275.20" y="116.32" width="5.30" height="27.48" fill="#ecc83c" stroke="#6a6a6a" stroke-width="0.45" />
<line x1="277.85" y1="114.60" x2="277.85" y2="118.04" stroke="#111" stroke-width="0.8" />
<line x1="276.35" y1="114.60" x2="279.35" y2="114.60" stroke="#111" stroke-width="0.8" />
<line x1="276.35" y1="118.04" x2="279.35" y2="118.04" stroke="#111" stroke-width="0.8" />
<line x1="277.85" y1="27.93" x2="277.85" y2="30.67" stroke="#777" stroke-width="0.6" />
<line x1="276.35" y1="27.93" x2="279.35" y2="27.93" stroke="#777" stroke-width="0.6" />
<line x1="276.35" y1="30.67" x2="279.35" y2="30.67" stroke="#777" stroke-width="0.6" />
<rect x="280.50" y="29.30" width="5.30" height="15.11" fill="#c2e4f6" stroke="#6a6a6a" stroke-width="0.45" />
<rect x="280.50" y="44.41" width="5.30" height="99.39" fill="#6cb6ee" stroke="#6a6a6a" stroke-width="0.45" />
<line x1="283.15" y1="41.55" x2="283.15" y2="47.28" stroke="#111" stroke-width="0.8" />
<line x1="281.65" y1="41.55" x2="284.65" y2="41.55" stroke="#111" stroke-width="0.8" />
<line x1="281.65" y1="47.28" x2="284.65" y2="47.28" stroke="#111" stroke-width="0.8" />
<line x1="283.15" y1="27.93" x2="283.15" y2="30.67" stroke="#777" stroke-width="0.6" />
<line x1="281.65" y1="27.93" x2="284.65" y2="27.93" stroke="#777" stroke-width="0.6" />
<line x1="281.65" y1="30.67" x2="284.65" y2="30.67" stroke="#777" stroke-width="0.6" />
<rect x="285.80" y="29.30" width="5.30" height="32.06" fill="#f5d3d8" stroke="#6a6a6a" stroke-width="0.45" />
<rect x="285.80" y="61.36" width="5.30" height="82.44" fill="#ef8d94" stroke="#6a6a6a" stroke-width="0.45" />
<line x1="288.45" y1="60.44" x2="288.45" y2="62.28" stroke="#111" stroke-width="0.8" />
<line x1="286.95" y1="60.44" x2="289.95" y2="60.44" stroke="#111" stroke-width="0.8" />
<line x1="286.95" y1="62.28" x2="289.95" y2="62.28" stroke="#111" stroke-width="0.8" />
<line x1="288.45" y1="27.93" x2="288.45" y2="30.67" stroke="#777" stroke-width="0.6" />
<line x1="286.95" y1="27.93" x2="289.95" y2="27.93" stroke="#777" stroke-width="0.6" />
<line x1="286.95" y1="30.67" x2="289.95" y2="30.67" stroke="#777" stroke-width="0.6" />
<rect x="301.63" y="29.30" width="5.30" height="95.03" fill="#efe7a6" stroke="#6a6a6a" stroke-width="0.45" />
<rect x="301.63" y="124.34" width="5.30" height="19.47" fill="#ecc83c" stroke="#6a6a6a" stroke-width="0.45" />
<line x1="304.28" y1="122.62" x2="304.28" y2="126.05" stroke="#111" stroke-width="0.8" />
<line x1="302.78" y1="122.62" x2="305.78" y2="122.62" stroke="#111" stroke-width="0.8" />
<line x1="302.78" y1="126.05" x2="305.78" y2="126.05" stroke="#111" stroke-width="0.8" />
<line x1="304.28" y1="27.93" x2="304.28" y2="30.67" stroke="#777" stroke-width="0.6" />
<line x1="302.78" y1="27.93" x2="305.78" y2="27.93" stroke="#777" stroke-width="0.6" />
<line x1="302.78" y1="30.67" x2="305.78" y2="30.67" stroke="#777" stroke-width="0.6" />
<rect x="306.93" y="29.30" width="5.30" height="15.80" fill="#c2e4f6" stroke="#6a6a6a" stroke-width="0.45" />
<rect x="306.93" y="45.10" width="5.30" height="98.70" fill="#6cb6ee" stroke="#6a6a6a" stroke-width="0.45" />
<line x1="309.58" y1="43.04" x2="309.58" y2="47.16" stroke="#111" stroke-width="0.8" />
<line x1="308.08" y1="43.04" x2="311.08" y2="43.04" stroke="#111" stroke-width="0.8" />
<line x1="308.08" y1="47.16" x2="311.08" y2="47.16" stroke="#111" stroke-width="0.8" />
<line x1="309.58" y1="27.93" x2="309.58" y2="30.67" stroke="#777" stroke-width="0.6" />
<line x1="308.08" y1="27.93" x2="311.08" y2="27.93" stroke="#777" stroke-width="0.6" />
<line x1="308.08" y1="30.67" x2="311.08" y2="30.67" stroke="#777" stroke-width="0.6" />
<rect x="312.23" y="29.30" width="5.30" height="39.85" fill="#f5d3d8" stroke="#6a6a6a" stroke-width="0.45" />
<rect x="312.23" y="69.15" width="5.30" height="74.65" fill="#ef8d94" stroke="#6a6a6a" stroke-width="0.45" />
<line x1="314.88" y1="68.00" x2="314.88" y2="70.29" stroke="#111" stroke-width="0.8" />
<line x1="313.38" y1="68.00" x2="316.38" y2="68.00" stroke="#111" stroke-width="0.8" />
<line x1="313.38" y1="70.29" x2="316.38" y2="70.29" stroke="#111" stroke-width="0.8" />
<line x1="314.88" y1="27.93" x2="314.88" y2="30.67" stroke="#777" stroke-width="0.6" />
<line x1="313.38" y1="27.93" x2="316.38" y2="27.93" stroke="#777" stroke-width="0.6" />
<line x1="313.38" y1="30.67" x2="316.38" y2="30.67" stroke="#777" stroke-width="0.6" />
<rect x="328.06" y="29.30" width="5.30" height="104.19" fill="#efe7a6" stroke="#6a6a6a" stroke-width="0.45" />
<rect x="328.06" y="133.50" width="5.30" height="10.31" fill="#ecc83c" stroke="#6a6a6a" stroke-width="0.45" />
<line x1="330.71" y1="133.04" x2="330.71" y2="133.95" stroke="#111" stroke-width="0.8" />
<line x1="329.21" y1="133.04" x2="332.21" y2="133.04" stroke="#111" stroke-width="0.8" />
<line x1="329.21" y1="133.95" x2="332.21" y2="133.95" stroke="#111" stroke-width="0.8" />
<line x1="330.71" y1="27.93" x2="330.71" y2="30.67" stroke="#777" stroke-width="0.6" />
<line x1="329.21" y1="27.93" x2="332.21" y2="27.93" stroke="#777" stroke-width="0.6" />
<line x1="329.21" y1="30.67" x2="332.21" y2="30.67" stroke="#777" stroke-width="0.6" />
<rect x="333.36" y="29.30" width="5.30" height="22.10" fill="#c2e4f6" stroke="#6a6a6a" stroke-width="0.45" />
<rect x="333.36" y="51.40" width="5.30" height="92.40" fill="#6cb6ee" stroke="#6a6a6a" stroke-width="0.45" />
<line x1="336.01" y1="50.25" x2="336.01" y2="52.54" stroke="#111" stroke-width="0.8" />
<line x1="334.51" y1="50.25" x2="337.51" y2="50.25" stroke="#111" stroke-width="0.8" />
<line x1="334.51" y1="52.54" x2="337.51" y2="52.54" stroke="#111" stroke-width="0.8" />
<line x1="336.01" y1="27.93" x2="336.01" y2="30.67" stroke="#777" stroke-width="0.6" />
<line x1="334.51" y1="27.93" x2="337.51" y2="27.93" stroke="#777" stroke-width="0.6" />
<line x1="334.51" y1="30.67" x2="337.51" y2="30.67" stroke="#777" stroke-width="0.6" />
<rect x="338.66" y="29.30" width="5.30" height="40.42" fill="#f5d3d8" stroke="#6a6a6a" stroke-width="0.45" />
<rect x="338.66" y="69.72" width="5.30" height="74.08" fill="#ef8d94" stroke="#6a6a6a" stroke-width="0.45" />
<line x1="341.31" y1="69.26" x2="341.31" y2="70.18" stroke="#111" stroke-width="0.8" />
<line x1="339.81" y1="69.26" x2="342.81" y2="69.26" stroke="#111" stroke-width="0.8" />
<line x1="339.81" y1="70.18" x2="342.81" y2="70.18" stroke="#111" stroke-width="0.8" />
<line x1="341.31" y1="27.93" x2="341.31" y2="30.67" stroke="#777" stroke-width="0.6" />
<line x1="339.81" y1="27.93" x2="342.81" y2="27.93" stroke="#777" stroke-width="0.6" />
<line x1="339.81" y1="30.67" x2="342.81" y2="30.67" stroke="#777" stroke-width="0.6" />
<rect x="354.49" y="29.30" width="5.30" height="106.49" fill="#efe7a6" stroke="#6a6a6a" stroke-width="0.45" />
<rect x="354.49" y="135.79" width="5.30" height="8.01" fill="#ecc83c" stroke="#6a6a6a" stroke-width="0.45" />
<line x1="357.14" y1="135.33" x2="357.14" y2="136.24" stroke="#111" stroke-width="0.8" />
<line x1="355.64" y1="135.33" x2="358.64" y2="135.33" stroke="#111" stroke-width="0.8" />
<line x1="355.64" y1="136.24" x2="358.64" y2="136.24" stroke="#111" stroke-width="0.8" />
<line x1="357.14" y1="27.93" x2="357.14" y2="30.67" stroke="#777" stroke-width="0.6" />
<line x1="355.64" y1="27.93" x2="358.64" y2="27.93" stroke="#777" stroke-width="0.6" />
<line x1="355.64" y1="30.67" x2="358.64" y2="30.67" stroke="#777" stroke-width="0.6" />
<rect x="359.79" y="29.30" width="5.30" height="20.61" fill="#c2e4f6" stroke="#6a6a6a" stroke-width="0.45" />
<rect x="359.79" y="49.91" width="5.30" height="93.89" fill="#6cb6ee" stroke="#6a6a6a" stroke-width="0.45" />
<line x1="362.44" y1="48.99" x2="362.44" y2="50.83" stroke="#111" stroke-width="0.8" />
<line x1="360.94" y1="48.99" x2="363.94" y2="48.99" stroke="#111" stroke-width="0.8" />
<line x1="360.94" y1="50.83" x2="363.94" y2="50.83" stroke="#111" stroke-width="0.8" />
<line x1="362.44" y1="27.93" x2="362.44" y2="30.67" stroke="#777" stroke-width="0.6" />
<line x1="360.94" y1="27.93" x2="363.94" y2="27.93" stroke="#777" stroke-width="0.6" />
<line x1="360.94" y1="30.67" x2="363.94" y2="30.67" stroke="#777" stroke-width="0.6" />
<rect x="365.09" y="29.30" width="5.30" height="41.22" fill="#f5d3d8" stroke="#6a6a6a" stroke-width="0.45" />
<rect x="365.09" y="70.52" width="5.30" height="73.28" fill="#ef8d94" stroke="#6a6a6a" stroke-width="0.45" />
<line x1="367.74" y1="68.80" x2="367.74" y2="72.24" stroke="#111" stroke-width="0.8" />
<line x1="366.24" y1="68.80" x2="369.24" y2="68.80" stroke="#111" stroke-width="0.8" />
<line x1="366.24" y1="72.24" x2="369.24" y2="72.24" stroke="#111" stroke-width="0.8" />
<line x1="367.74" y1="27.93" x2="367.74" y2="30.67" stroke="#777" stroke-width="0.6" />
<line x1="366.24" y1="27.93" x2="369.24" y2="27.93" stroke="#777" stroke-width="0.6" />
<line x1="366.24" y1="30.67" x2="369.24" y2="30.67" stroke="#777" stroke-width="0.6" />
<rect x="380.92" y="29.30" width="5.30" height="105.91" fill="#efe7a6" stroke="#6a6a6a" stroke-width="0.45" />
<rect x="380.92" y="135.21" width="5.30" height="8.59" fill="#ecc83c" stroke="#6a6a6a" stroke-width="0.45" />
<line x1="383.57" y1="134.30" x2="383.57" y2="136.13" stroke="#111" stroke-width="0.8" />
<line x1="382.07" y1="134.30" x2="385.07" y2="134.30" stroke="#111" stroke-width="0.8" />
<line x1="382.07" y1="136.13" x2="385.07" y2="136.13" stroke="#111" stroke-width="0.8" />
<line x1="383.57" y1="27.93" x2="383.57" y2="30.67" stroke="#777" stroke-width="0.6" />
<line x1="382.07" y1="27.93" x2="385.07" y2="27.93" stroke="#777" stroke-width="0.6" />
<line x1="382.07" y1="30.67" x2="385.07" y2="30.67" stroke="#777" stroke-width="0.6" />
<rect x="386.22" y="29.30" width="5.30" height="18.89" fill="#c2e4f6" stroke="#6a6a6a" stroke-width="0.45" />
<rect x="386.22" y="48.19" width="5.30" height="95.61" fill="#6cb6ee" stroke="#6a6a6a" stroke-width="0.45" />
<line x1="388.87" y1="47.51" x2="388.87" y2="48.88" stroke="#111" stroke-width="0.8" />
<line x1="387.37" y1="47.51" x2="390.37" y2="47.51" stroke="#111" stroke-width="0.8" />
<line x1="387.37" y1="48.88" x2="390.37" y2="48.88" stroke="#111" stroke-width="0.8" />
<line x1="388.87" y1="27.93" x2="388.87" y2="30.67" stroke="#777" stroke-width="0.6" />
<line x1="387.37" y1="27.93" x2="390.37" y2="27.93" stroke="#777" stroke-width="0.6" />
<line x1="387.37" y1="30.67" x2="390.37" y2="30.67" stroke="#777" stroke-width="0.6" />
<rect x="391.52" y="29.30" width="5.30" height="37.21" fill="#f5d3d8" stroke="#6a6a6a" stroke-width="0.45" />
<rect x="391.52" y="66.51" width="5.30" height="77.29" fill="#ef8d94" stroke="#6a6a6a" stroke-width="0.45" />
<line x1="394.17" y1="65.02" x2="394.17" y2="68.00" stroke="#111" stroke-width="0.8" />
<line x1="392.67" y1="65.02" x2="395.67" y2="65.02" stroke="#111" stroke-width="0.8" />
<line x1="392.67" y1="68.00" x2="395.67" y2="68.00" stroke="#111" stroke-width="0.8" />
<line x1="394.17" y1="27.93" x2="394.17" y2="30.67" stroke="#777" stroke-width="0.6" />
<line x1="392.67" y1="27.93" x2="395.67" y2="27.93" stroke="#777" stroke-width="0.6" />
<line x1="392.67" y1="30.67" x2="395.67" y2="30.67" stroke="#777" stroke-width="0.6" />
<rect x="407.35" y="29.30" width="5.30" height="105.34" fill="#efe7a6" stroke="#6a6a6a" stroke-width="0.45" />
<rect x="407.35" y="134.64" width="5.30" height="9.16" fill="#ecc83c" stroke="#6a6a6a" stroke-width="0.45" />
<line x1="410.00" y1="133.27" x2="410.00" y2="136.01" stroke="#111" stroke-width="0.8" />
<line x1="408.50" y1="133.27" x2="411.50" y2="133.27" stroke="#111" stroke-width="0.8" />
<line x1="408.50" y1="136.01" x2="411.50" y2="136.01" stroke="#111" stroke-width="0.8" />
<line x1="410.00" y1="27.93" x2="410.00" y2="30.67" stroke="#777" stroke-width="0.6" />
<line x1="408.50" y1="27.93" x2="411.50" y2="27.93" stroke="#777" stroke-width="0.6" />
<line x1="408.50" y1="30.67" x2="411.50" y2="30.67" stroke="#777" stroke-width="0.6" />
<rect x="412.65" y="29.30" width="5.30" height="18.32" fill="#c2e4f6" stroke="#6a6a6a" stroke-width="0.45" />
<rect x="412.65" y="47.62" width="5.30" height="96.18" fill="#6cb6ee" stroke="#6a6a6a" stroke-width="0.45" />
<line x1="415.30" y1="46.48" x2="415.30" y2="48.77" stroke="#111" stroke-width="0.8" />
<line x1="413.80" y1="46.48" x2="416.80" y2="46.48" stroke="#111" stroke-width="0.8" />
<line x1="413.80" y1="48.77" x2="416.80" y2="48.77" stroke="#111" stroke-width="0.8" />
<line x1="415.30" y1="27.93" x2="415.30" y2="30.67" stroke="#777" stroke-width="0.6" />
<line x1="413.80" y1="27.93" x2="416.80" y2="27.93" stroke="#777" stroke-width="0.6" />
<line x1="413.80" y1="30.67" x2="416.80" y2="30.67" stroke="#777" stroke-width="0.6" />
<rect x="417.95" y="29.30" width="5.30" height="34.92" fill="#f5d3d8" stroke="#6a6a6a" stroke-width="0.45" />
<rect x="417.95" y="64.22" width="5.30" height="79.58" fill="#ef8d94" stroke="#6a6a6a" stroke-width="0.45" />
<line x1="420.60" y1="62.51" x2="420.60" y2="65.94" stroke="#111" stroke-width="0.8" />
<line x1="419.10" y1="62.51" x2="422.10" y2="62.51" stroke="#111" stroke-width="0.8" />
<line x1="419.10" y1="65.94" x2="422.10" y2="65.94" stroke="#111" stroke-width="0.8" />
<line x1="420.60" y1="27.93" x2="420.60" y2="30.67" stroke="#777" stroke-width="0.6" />
<line x1="419.10" y1="27.93" x2="422.10" y2="27.93" stroke="#777" stroke-width="0.6" />
<line x1="419.10" y1="30.67" x2="422.10" y2="30.67" stroke="#777" stroke-width="0.6" />
<rect x="433.78" y="29.30" width="5.30" height="102.48" fill="#efe7a6" stroke="#6a6a6a" stroke-width="0.45" />
<rect x="433.78" y="131.78" width="5.30" height="12.02" fill="#ecc83c" stroke="#6a6a6a" stroke-width="0.45" />
<line x1="436.43" y1="129.72" x2="436.43" y2="133.84" stroke="#111" stroke-width="0.8" />
<line x1="434.93" y1="129.72" x2="437.93" y2="129.72" stroke="#111" stroke-width="0.8" />
<line x1="434.93" y1="133.84" x2="437.93" y2="133.84" stroke="#111" stroke-width="0.8" />
<line x1="436.43" y1="27.93" x2="436.43" y2="30.67" stroke="#777" stroke-width="0.6" />
<line x1="434.93" y1="27.93" x2="437.93" y2="27.93" stroke="#777" stroke-width="0.6" />
<line x1="434.93" y1="30.67" x2="437.93" y2="30.67" stroke="#777" stroke-width="0.6" />
<rect x="439.08" y="29.30" width="5.30" height="14.31" fill="#c2e4f6" stroke="#6a6a6a" stroke-width="0.45" />
<rect x="439.08" y="43.61" width="5.30" height="100.19" fill="#6cb6ee" stroke="#6a6a6a" stroke-width="0.45" />
<line x1="441.73" y1="43.27" x2="441.73" y2="43.96" stroke="#111" stroke-width="0.8" />
<line x1="440.23" y1="43.27" x2="443.23" y2="43.27" stroke="#111" stroke-width="0.8" />
<line x1="440.23" y1="43.96" x2="443.23" y2="43.96" stroke="#111" stroke-width="0.8" />
<line x1="441.73" y1="27.93" x2="441.73" y2="30.67" stroke="#777" stroke-width="0.6" />
<line x1="440.23" y1="27.93" x2="443.23" y2="27.93" stroke="#777" stroke-width="0.6" />
<line x1="440.23" y1="30.67" x2="443.23" y2="30.67" stroke="#777" stroke-width="0.6" />
<rect x="444.38" y="29.30" width="5.30" height="25.76" fill="#f5d3d8" stroke="#6a6a6a" stroke-width="0.45" />
<rect x="444.38" y="55.06" width="5.30" height="88.74" fill="#ef8d94" stroke="#6a6a6a" stroke-width="0.45" />
<line x1="447.03" y1="53.00" x2="447.03" y2="57.12" stroke="#111" stroke-width="0.8" />
<line x1="445.53" y1="53.00" x2="448.53" y2="53.00" stroke="#111" stroke-width="0.8" />
<line x1="445.53" y1="57.12" x2="448.53" y2="57.12" stroke="#111" stroke-width="0.8" />
<line x1="447.03" y1="27.93" x2="447.03" y2="30.67" stroke="#777" stroke-width="0.6" />
<line x1="445.53" y1="27.93" x2="448.53" y2="27.93" stroke="#777" stroke-width="0.6" />
<line x1="445.53" y1="30.67" x2="448.53" y2="30.67" stroke="#777" stroke-width="0.6" />
<rect x="270.30" y="6.30" width="184.70" height="137.50" fill="none" stroke="#000" stroke-width="1.8" />
<line x1="270.30" y1="143.80" x2="273.30" y2="143.80" stroke="#000" stroke-width="1.6" />
<text x="267.20" y="147.70" font-size="10.8" text-anchor="end" fill="#1a1a1a" >0</text>
<line x1="270.30" y1="120.90" x2="273.30" y2="120.90" stroke="#000" stroke-width="1.6" />
<text x="267.20" y="124.80" font-size="10.8" text-anchor="end" fill="#1a1a1a" >20</text>
<line x1="270.30" y1="98.00" x2="273.30" y2="98.00" stroke="#000" stroke-width="1.6" />
<text x="267.20" y="101.90" font-size="10.8" text-anchor="end" fill="#1a1a1a" >40</text>
<line x1="270.30" y1="75.10" x2="273.30" y2="75.10" stroke="#000" stroke-width="1.6" />
<text x="267.20" y="79.00" font-size="10.8" text-anchor="end" fill="#1a1a1a" >60</text>
<line x1="270.30" y1="52.20" x2="273.30" y2="52.20" stroke="#000" stroke-width="1.6" />
<text x="267.20" y="56.10" font-size="10.8" text-anchor="end" fill="#1a1a1a" >80</text>
<line x1="270.30" y1="29.30" x2="273.30" y2="29.30" stroke="#000" stroke-width="1.6" />
<text x="267.20" y="33.20" font-size="10.8" text-anchor="end" fill="#1a1a1a" >100</text>
<line x1="283.15" y1="143.80" x2="283.15" y2="146.80" stroke="#000" stroke-width="1.6" />
<text x="283.15" y="157.60" font-size="10.8" text-anchor="middle" fill="#1a1a1a" >-0.5</text>
<line x1="309.58" y1="143.80" x2="309.58" y2="146.80" stroke="#000" stroke-width="1.6" />
<text x="309.58" y="157.60" font-size="10.8" text-anchor="middle" fill="#1a1a1a" >-0.6</text>
<line x1="336.01" y1="143.80" x2="336.01" y2="146.80" stroke="#000" stroke-width="1.6" />
<text x="336.01" y="157.60" font-size="10.8" text-anchor="middle" fill="#1a1a1a" >-0.7</text>
<line x1="362.44" y1="143.80" x2="362.44" y2="146.80" stroke="#000" stroke-width="1.6" />
<text x="362.44" y="157.60" font-size="10.8" text-anchor="middle" fill="#1a1a1a" >-0.8</text>
<line x1="388.87" y1="143.80" x2="388.87" y2="146.80" stroke="#000" stroke-width="1.6" />
<text x="388.87" y="157.60" font-size="10.8" text-anchor="middle" fill="#1a1a1a" >-0.9</text>
<line x1="415.30" y1="143.80" x2="415.30" y2="146.80" stroke="#000" stroke-width="1.6" />
<text x="415.30" y="157.60" font-size="10.8" text-anchor="middle" fill="#1a1a1a" >-1.0</text>
<line x1="441.73" y1="143.80" x2="441.73" y2="146.80" stroke="#000" stroke-width="1.6" />
<text x="441.73" y="157.60" font-size="10.8" text-anchor="middle" fill="#1a1a1a" >-1.1</text>
<text x="361.80" y="174.80" font-size="11.8" text-anchor="middle" fill="#1a1a1a" >Potential (V <tspan font-style="italic">vs.</tspan> RHE)</text>
<text transform="translate(245.6,76.5) rotate(-90)" font-size="11.8" text-anchor="middle" fill="#1a1a1a">FE (%)</text>
<rect x="272.20" y="9.80" width="14.20" height="6.20" fill="#ef8d94" stroke="#6a6a6a" stroke-width="0.45" />
<text x="288.60" y="15.40" font-size="6.55" text-anchor="start" fill="#1a1a1a" >Ni SAs-Co NPs H<tspan dy="1.6" font-size="4.6">2</tspan></text>
<rect x="272.20" y="18.85" width="14.20" height="6.20" fill="#f5d3d8" stroke="#6a6a6a" stroke-width="0.45" />
<text x="288.60" y="24.45" font-size="6.55" text-anchor="start" fill="#1a1a1a" >Ni SAs-Co NPs CO</text>
<rect x="349.40" y="9.80" width="14.20" height="6.20" fill="#6cb6ee" stroke="#6a6a6a" stroke-width="0.45" />
<text x="365.80" y="15.40" font-size="6.55" text-anchor="start" fill="#1a1a1a" >Co NPs H<tspan dy="1.6" font-size="4.6">2</tspan></text>
<rect x="349.40" y="18.85" width="14.20" height="6.20" fill="#c2e4f6" stroke="#6a6a6a" stroke-width="0.45" />
<text x="365.80" y="24.45" font-size="6.55" text-anchor="start" fill="#1a1a1a" >Co NPs CO</text>
<rect x="404.60" y="9.80" width="14.20" height="6.20" fill="#ecc83c" stroke="#6a6a6a" stroke-width="0.45" />
<text x="421.00" y="15.40" font-size="6.55" text-anchor="start" fill="#1a1a1a" >Ni SAs H<tspan dy="1.6" font-size="4.6">2</tspan></text>
<rect x="404.60" y="18.85" width="14.20" height="6.20" fill="#efe7a6" stroke="#6a6a6a" stroke-width="0.45" />
<text x="421.00" y="24.45" font-size="6.55" text-anchor="start" fill="#1a1a1a" >Ni SAs CO</text>
<line x1="510.60" y1="34.13" x2="510.60" y2="66.89" stroke="#3c78e6" stroke-width="1.0" />
<line x1="508.80" y1="34.13" x2="512.40" y2="34.13" stroke="#3c78e6" stroke-width="1.0" />
<line x1="508.80" y1="66.89" x2="512.40" y2="66.89" stroke="#3c78e6" stroke-width="1.0" />
<line x1="537.10" y1="47.10" x2="537.10" y2="67.58" stroke="#3c78e6" stroke-width="1.0" />
<line x1="535.30" y1="47.10" x2="538.90" y2="47.10" stroke="#3c78e6" stroke-width="1.0" />
<line x1="535.30" y1="67.58" x2="538.90" y2="67.58" stroke="#3c78e6" stroke-width="1.0" />
<line x1="563.60" y1="81.93" x2="563.60" y2="90.12" stroke="#3c78e6" stroke-width="1.0" />
<line x1="561.80" y1="81.93" x2="565.40" y2="81.93" stroke="#3c78e6" stroke-width="1.0" />
<line x1="561.80" y1="90.12" x2="565.40" y2="90.12" stroke="#3c78e6" stroke-width="1.0" />
<line x1="590.10" y1="77.56" x2="590.10" y2="86.30" stroke="#3c78e6" stroke-width="1.0" />
<line x1="588.30" y1="77.56" x2="591.90" y2="77.56" stroke="#3c78e6" stroke-width="1.0" />
<line x1="588.30" y1="86.30" x2="591.90" y2="86.30" stroke="#3c78e6" stroke-width="1.0" />
<line x1="616.60" y1="69.64" x2="616.60" y2="79.19" stroke="#3c78e6" stroke-width="1.0" />
<line x1="614.80" y1="69.64" x2="618.40" y2="69.64" stroke="#3c78e6" stroke-width="1.0" />
<line x1="614.80" y1="79.19" x2="618.40" y2="79.19" stroke="#3c78e6" stroke-width="1.0" />
<line x1="643.10" y1="64.86" x2="643.10" y2="79.88" stroke="#3c78e6" stroke-width="1.0" />
<line x1="641.30" y1="64.86" x2="644.90" y2="64.86" stroke="#3c78e6" stroke-width="1.0" />
<line x1="641.30" y1="79.88" x2="644.90" y2="79.88" stroke="#3c78e6" stroke-width="1.0" />
<line x1="669.60" y1="35.77" x2="669.60" y2="59.79" stroke="#3c78e6" stroke-width="1.0" />
<line x1="667.80" y1="35.77" x2="671.40" y2="35.77" stroke="#3c78e6" stroke-width="1.0" />
<line x1="667.80" y1="59.79" x2="671.40" y2="59.79" stroke="#3c78e6" stroke-width="1.0" />
<path d="M510.60,50.51 L537.10,57.34 L563.60,86.03 L590.10,81.93 L616.60,74.42 L643.10,72.37 L669.60,47.78" stroke="#3c78e6" stroke-width="1.9" fill="none" stroke-linejoin="round"/>
<circle cx="510.60" cy="50.51" r="2.3" fill="#3c78e6"/>
<circle cx="510.30" cy="50.21" r="1.0" fill="#fff" fill-opacity="0.55"/>
<circle cx="537.10" cy="57.34" r="2.3" fill="#3c78e6"/>
<circle cx="536.80" cy="57.04" r="1.0" fill="#fff" fill-opacity="0.55"/>
<circle cx="563.60" cy="86.03" r="2.3" fill="#3c78e6"/>
<circle cx="563.30" cy="85.73" r="1.0" fill="#fff" fill-opacity="0.55"/>
<circle cx="590.10" cy="81.93" r="2.3" fill="#3c78e6"/>
<circle cx="589.80" cy="81.63" r="1.0" fill="#fff" fill-opacity="0.55"/>
<circle cx="616.60" cy="74.42" r="2.3" fill="#3c78e6"/>
<circle cx="616.30" cy="74.12" r="1.0" fill="#fff" fill-opacity="0.55"/>
<circle cx="643.10" cy="72.37" r="2.3" fill="#3c78e6"/>
<circle cx="642.80" cy="72.07" r="1.0" fill="#fff" fill-opacity="0.55"/>
<circle cx="669.60" cy="47.78" r="2.3" fill="#3c78e6"/>
<circle cx="669.30" cy="47.48" r="1.0" fill="#fff" fill-opacity="0.55"/>
<line x1="616.60" y1="112.94" x2="616.60" y2="117.03" stroke="#ff2020" stroke-width="1.0" />
<line x1="614.80" y1="112.94" x2="618.40" y2="112.94" stroke="#ff2020" stroke-width="1.0" />
<line x1="614.80" y1="117.03" x2="618.40" y2="117.03" stroke="#ff2020" stroke-width="1.0" />
<line x1="643.10" y1="111.03" x2="643.10" y2="114.30" stroke="#ff2020" stroke-width="1.0" />
<line x1="641.30" y1="111.03" x2="644.90" y2="111.03" stroke="#ff2020" stroke-width="1.0" />
<line x1="641.30" y1="114.30" x2="644.90" y2="114.30" stroke="#ff2020" stroke-width="1.0" />
<line x1="669.60" y1="91.09" x2="669.60" y2="101.46" stroke="#ff2020" stroke-width="1.0" />
<line x1="667.80" y1="91.09" x2="671.40" y2="91.09" stroke="#ff2020" stroke-width="1.0" />
<line x1="667.80" y1="101.46" x2="671.40" y2="101.46" stroke="#ff2020" stroke-width="1.0" />
<path d="M510.60,107.88 L537.10,117.45 L563.60,118.13 L590.10,118.81 L616.60,114.99 L643.10,112.67 L669.60,96.27" stroke="#ff2020" stroke-width="1.9" fill="none" stroke-linejoin="round"/>
<circle cx="510.60" cy="107.88" r="2.3" fill="#ff2020"/>
<circle cx="510.30" cy="107.58" r="1.0" fill="#fff" fill-opacity="0.55"/>
<circle cx="537.10" cy="117.45" r="2.3" fill="#ff2020"/>
<circle cx="536.80" cy="117.15" r="1.0" fill="#fff" fill-opacity="0.55"/>
<circle cx="563.60" cy="118.13" r="2.3" fill="#ff2020"/>
<circle cx="563.30" cy="117.83" r="1.0" fill="#fff" fill-opacity="0.55"/>
<circle cx="590.10" cy="118.81" r="2.3" fill="#ff2020"/>
<circle cx="589.80" cy="118.51" r="1.0" fill="#fff" fill-opacity="0.55"/>
<circle cx="616.60" cy="114.99" r="2.3" fill="#ff2020"/>
<circle cx="616.30" cy="114.69" r="1.0" fill="#fff" fill-opacity="0.55"/>
<circle cx="643.10" cy="112.67" r="2.3" fill="#ff2020"/>
<circle cx="642.80" cy="112.37" r="1.0" fill="#fff" fill-opacity="0.55"/>
<circle cx="669.60" cy="96.27" r="2.3" fill="#ff2020"/>
<circle cx="669.30" cy="95.97" r="1.0" fill="#fff" fill-opacity="0.55"/>
<path d="M510.60,139.30 L537.10,140.67 L563.60,142.03 L590.10,142.58 L616.60,142.31 L643.10,142.03 L669.60,141.76" stroke="#c8a030" stroke-width="2.4" fill="none" stroke-linejoin="round"/>
<circle cx="510.60" cy="139.30" r="2.3" fill="#c8a030"/>
<circle cx="510.30" cy="139.00" r="1.0" fill="#fff" fill-opacity="0.55"/>
<circle cx="537.10" cy="140.67" r="2.3" fill="#c8a030"/>
<circle cx="536.80" cy="140.37" r="1.0" fill="#fff" fill-opacity="0.55"/>
<circle cx="563.60" cy="142.03" r="2.3" fill="#c8a030"/>
<circle cx="563.30" cy="141.73" r="1.0" fill="#fff" fill-opacity="0.55"/>
<circle cx="590.10" cy="142.58" r="2.3" fill="#c8a030"/>
<circle cx="589.80" cy="142.28" r="1.0" fill="#fff" fill-opacity="0.55"/>
<circle cx="616.60" cy="142.31" r="2.3" fill="#c8a030"/>
<circle cx="616.30" cy="142.01" r="1.0" fill="#fff" fill-opacity="0.55"/>
<circle cx="643.10" cy="142.03" r="2.3" fill="#c8a030"/>
<circle cx="642.80" cy="141.73" r="1.0" fill="#fff" fill-opacity="0.55"/>
<circle cx="669.60" cy="141.76" r="2.3" fill="#c8a030"/>
<circle cx="669.30" cy="141.46" r="1.0" fill="#fff" fill-opacity="0.55"/>
<rect x="497.80" y="6.80" width="184.70" height="136.60" fill="none" stroke="#000" stroke-width="1.8" />
<line x1="497.80" y1="143.40" x2="500.80" y2="143.40" stroke="#000" stroke-width="1.6" />
<text x="494.00" y="147.30" font-size="10.8" text-anchor="end" fill="#1a1a1a" >0</text>
<line x1="497.80" y1="116.08" x2="500.80" y2="116.08" stroke="#000" stroke-width="1.6" />
<text x="494.00" y="119.98" font-size="10.8" text-anchor="end" fill="#1a1a1a" >2</text>
<line x1="497.80" y1="88.76" x2="500.80" y2="88.76" stroke="#000" stroke-width="1.6" />
<text x="494.00" y="92.66" font-size="10.8" text-anchor="end" fill="#1a1a1a" >4</text>
<line x1="497.80" y1="61.44" x2="500.80" y2="61.44" stroke="#000" stroke-width="1.6" />
<text x="494.00" y="65.34" font-size="10.8" text-anchor="end" fill="#1a1a1a" >6</text>
<line x1="497.80" y1="34.12" x2="500.80" y2="34.12" stroke="#000" stroke-width="1.6" />
<text x="494.00" y="38.02" font-size="10.8" text-anchor="end" fill="#1a1a1a" >8</text>
<line x1="497.80" y1="6.80" x2="500.80" y2="6.80" stroke="#000" stroke-width="1.6" />
<text x="494.00" y="10.70" font-size="10.8" text-anchor="end" fill="#1a1a1a" >10</text>
<line x1="510.60" y1="143.40" x2="510.60" y2="146.40" stroke="#000" stroke-width="1.6" />
<text x="510.60" y="157.60" font-size="10.8" text-anchor="middle" fill="#1a1a1a" >-0.5</text>
<line x1="537.10" y1="143.40" x2="537.10" y2="146.40" stroke="#000" stroke-width="1.6" />
<text x="537.10" y="157.60" font-size="10.8" text-anchor="middle" fill="#1a1a1a" >-0.6</text>
<line x1="563.60" y1="143.40" x2="563.60" y2="146.40" stroke="#000" stroke-width="1.6" />
<text x="563.60" y="157.60" font-size="10.8" text-anchor="middle" fill="#1a1a1a" >-0.7</text>
<line x1="590.10" y1="143.40" x2="590.10" y2="146.40" stroke="#000" stroke-width="1.6" />
<text x="590.10" y="157.60" font-size="10.8" text-anchor="middle" fill="#1a1a1a" >-0.8</text>
<line x1="616.60" y1="143.40" x2="616.60" y2="146.40" stroke="#000" stroke-width="1.6" />
<text x="616.60" y="157.60" font-size="10.8" text-anchor="middle" fill="#1a1a1a" >-0.9</text>
<line x1="643.10" y1="143.40" x2="643.10" y2="146.40" stroke="#000" stroke-width="1.6" />
<text x="643.10" y="157.60" font-size="10.8" text-anchor="middle" fill="#1a1a1a" >-1.0</text>
<line x1="669.60" y1="143.40" x2="669.60" y2="146.40" stroke="#000" stroke-width="1.6" />
<text x="669.60" y="157.60" font-size="10.8" text-anchor="middle" fill="#1a1a1a" >-1.1</text>
<text x="590.00" y="174.80" font-size="11.8" text-anchor="middle" fill="#1a1a1a" >Potential (V <tspan font-style="italic">vs.</tspan> RHE)</text>
<text transform="translate(478.3,75) rotate(-90)" font-size="11.8" text-anchor="middle" fill="#1a1a1a">FE<tspan dy="3" font-size="7.5">H<tspan dy="1.5" font-size="5">2</tspan></tspan><tspan dy="-4.5">/FE</tspan><tspan dy="3" font-size="7.5">CO</tspan></text>
<line x1="588.70" y1="15.00" x2="611.40" y2="15.00" stroke="#ff2020" stroke-width="1.8" />
<circle cx="600" cy="15.0" r="2.1" fill="#ff2020"/>
<circle cx="599.7" cy="14.7" r="0.9" fill="#fff" fill-opacity="0.55"/>
<text x="613.60" y="18.20" font-size="9.4" text-anchor="start" fill="#1a1a1a" >Ni SAs-Co NPs</text>
<line x1="588.70" y1="26.50" x2="611.40" y2="26.50" stroke="#3c78e6" stroke-width="1.8" />
<circle cx="600" cy="26.5" r="2.1" fill="#3c78e6"/>
<circle cx="599.7" cy="26.2" r="0.9" fill="#fff" fill-opacity="0.55"/>
<text x="613.60" y="29.70" font-size="9.4" text-anchor="start" fill="#1a1a1a" >Co NPs</text>
<line x1="588.70" y1="38.00" x2="611.40" y2="38.00" stroke="#c8a030" stroke-width="1.8" />
<circle cx="600" cy="38.0" r="2.1" fill="#c8a030"/>
<circle cx="599.7" cy="37.7" r="0.9" fill="#fff" fill-opacity="0.55"/>
<text x="613.60" y="41.20" font-size="9.4" text-anchor="start" fill="#1a1a1a" >Ni SAs</text>
<rect x="40.10" y="330.28" width="5.35" height="2.49" fill="#efe7a6" stroke="#6a6a6a" stroke-width="0.45" />
<rect x="40.10" y="332.77" width="5.35" height="0.43" fill="#ecc83c" stroke="#6a6a6a" stroke-width="0.45" />
<line x1="42.77" y1="332.17" x2="42.77" y2="333.37" stroke="#111" stroke-width="0.8" />
<line x1="41.27" y1="332.17" x2="44.27" y2="332.17" stroke="#111" stroke-width="0.8" />
<line x1="41.27" y1="333.37" x2="44.27" y2="333.37" stroke="#111" stroke-width="0.8" />
<line x1="42.77" y1="329.68" x2="42.77" y2="330.88" stroke="#666" stroke-width="0.6" />
<line x1="41.27" y1="329.68" x2="44.27" y2="329.68" stroke="#666" stroke-width="0.6" />
<line x1="41.27" y1="330.88" x2="44.27" y2="330.88" stroke="#666" stroke-width="0.6" />
<rect x="45.45" y="327.37" width="5.35" height="0.69" fill="#c2e4f6" stroke="#6a6a6a" stroke-width="0.45" />
<rect x="45.45" y="328.06" width="5.35" height="5.14" fill="#6cb6ee" stroke="#6a6a6a" stroke-width="0.45" />
<line x1="48.12" y1="325.49" x2="48.12" y2="330.62" stroke="#111" stroke-width="0.8" />
<line x1="46.62" y1="325.49" x2="49.62" y2="325.49" stroke="#111" stroke-width="0.8" />
<line x1="46.62" y1="330.62" x2="49.62" y2="330.62" stroke="#111" stroke-width="0.8" />
<line x1="48.12" y1="326.77" x2="48.12" y2="327.97" stroke="#666" stroke-width="0.6" />
<line x1="46.62" y1="326.77" x2="49.62" y2="326.77" stroke="#666" stroke-width="0.6" />
<line x1="46.62" y1="327.97" x2="49.62" y2="327.97" stroke="#666" stroke-width="0.6" />
<rect x="50.80" y="324.62" width="5.35" height="2.06" fill="#f5d3d8" stroke="#6a6a6a" stroke-width="0.45" />
<rect x="50.80" y="326.68" width="5.35" height="6.52" fill="#ef8d94" stroke="#6a6a6a" stroke-width="0.45" />
<line x1="53.47" y1="325.83" x2="53.47" y2="327.54" stroke="#111" stroke-width="0.8" />
<line x1="51.97" y1="325.83" x2="54.97" y2="325.83" stroke="#111" stroke-width="0.8" />
<line x1="51.97" y1="327.54" x2="54.97" y2="327.54" stroke="#111" stroke-width="0.8" />
<line x1="53.47" y1="324.02" x2="53.47" y2="325.23" stroke="#666" stroke-width="0.6" />
<line x1="51.97" y1="324.02" x2="54.97" y2="324.02" stroke="#666" stroke-width="0.6" />
<line x1="51.97" y1="325.23" x2="54.97" y2="325.23" stroke="#666" stroke-width="0.6" />
<rect x="66.53" y="323.77" width="5.35" height="7.72" fill="#efe7a6" stroke="#6a6a6a" stroke-width="0.45" />
<rect x="66.53" y="331.49" width="5.35" height="1.71" fill="#ecc83c" stroke="#6a6a6a" stroke-width="0.45" />
<line x1="69.20" y1="330.88" x2="69.20" y2="332.09" stroke="#111" stroke-width="0.8" />
<line x1="67.70" y1="330.88" x2="70.70" y2="330.88" stroke="#111" stroke-width="0.8" />
<line x1="67.70" y1="332.09" x2="70.70" y2="332.09" stroke="#111" stroke-width="0.8" />
<line x1="69.20" y1="323.17" x2="69.20" y2="324.37" stroke="#666" stroke-width="0.6" />
<line x1="67.70" y1="323.17" x2="70.70" y2="323.17" stroke="#666" stroke-width="0.6" />
<line x1="67.70" y1="324.37" x2="70.70" y2="324.37" stroke="#666" stroke-width="0.6" />
<rect x="71.88" y="324.62" width="5.35" height="0.86" fill="#c2e4f6" stroke="#6a6a6a" stroke-width="0.45" />
<rect x="71.88" y="325.48" width="5.35" height="7.72" fill="#6cb6ee" stroke="#6a6a6a" stroke-width="0.45" />
<line x1="74.55" y1="323.26" x2="74.55" y2="327.71" stroke="#111" stroke-width="0.8" />
<line x1="73.05" y1="323.26" x2="76.05" y2="323.26" stroke="#111" stroke-width="0.8" />
<line x1="73.05" y1="327.71" x2="76.05" y2="327.71" stroke="#111" stroke-width="0.8" />
<line x1="74.55" y1="323.94" x2="74.55" y2="325.31" stroke="#666" stroke-width="0.6" />
<line x1="73.05" y1="323.94" x2="76.05" y2="323.94" stroke="#666" stroke-width="0.6" />
<line x1="73.05" y1="325.31" x2="76.05" y2="325.31" stroke="#666" stroke-width="0.6" />
<rect x="77.23" y="310.90" width="5.35" height="7.72" fill="#f5d3d8" stroke="#6a6a6a" stroke-width="0.45" />
<rect x="77.23" y="318.62" width="5.35" height="14.58" fill="#ef8d94" stroke="#6a6a6a" stroke-width="0.45" />
<line x1="79.91" y1="317.77" x2="79.91" y2="319.48" stroke="#111" stroke-width="0.8" />
<line x1="78.41" y1="317.77" x2="81.41" y2="317.77" stroke="#111" stroke-width="0.8" />
<line x1="78.41" y1="319.48" x2="81.41" y2="319.48" stroke="#111" stroke-width="0.8" />
<line x1="79.91" y1="310.22" x2="79.91" y2="311.59" stroke="#666" stroke-width="0.6" />
<line x1="78.41" y1="310.22" x2="81.41" y2="310.22" stroke="#666" stroke-width="0.6" />
<line x1="78.41" y1="311.59" x2="81.41" y2="311.59" stroke="#666" stroke-width="0.6" />
<rect x="92.96" y="309.36" width="5.35" height="22.12" fill="#efe7a6" stroke="#6a6a6a" stroke-width="0.45" />
<rect x="92.96" y="331.49" width="5.35" height="1.71" fill="#ecc83c" stroke="#6a6a6a" stroke-width="0.45" />
<line x1="95.64" y1="330.88" x2="95.64" y2="332.09" stroke="#111" stroke-width="0.8" />
<line x1="94.14" y1="330.88" x2="97.14" y2="330.88" stroke="#111" stroke-width="0.8" />
<line x1="94.14" y1="332.09" x2="97.14" y2="332.09" stroke="#111" stroke-width="0.8" />
<line x1="95.64" y1="308.76" x2="95.64" y2="309.96" stroke="#666" stroke-width="0.6" />
<line x1="94.14" y1="308.76" x2="97.14" y2="308.76" stroke="#666" stroke-width="0.6" />
<line x1="94.14" y1="309.96" x2="97.14" y2="309.96" stroke="#666" stroke-width="0.6" />
<rect x="98.31" y="311.25" width="5.35" height="3.09" fill="#c2e4f6" stroke="#6a6a6a" stroke-width="0.45" />
<rect x="98.31" y="314.33" width="5.35" height="18.87" fill="#6cb6ee" stroke="#6a6a6a" stroke-width="0.45" />
<line x1="100.98" y1="311.77" x2="100.98" y2="316.90" stroke="#111" stroke-width="0.8" />
<line x1="99.48" y1="311.77" x2="102.48" y2="311.77" stroke="#111" stroke-width="0.8" />
<line x1="99.48" y1="316.90" x2="102.48" y2="316.90" stroke="#111" stroke-width="0.8" />
<line x1="100.98" y1="309.54" x2="100.98" y2="312.96" stroke="#666" stroke-width="0.6" />
<line x1="99.48" y1="309.54" x2="102.48" y2="309.54" stroke="#666" stroke-width="0.6" />
<line x1="99.48" y1="312.96" x2="102.48" y2="312.96" stroke="#666" stroke-width="0.6" />
<rect x="103.66" y="299.24" width="5.35" height="12.00" fill="#f5d3d8" stroke="#6a6a6a" stroke-width="0.45" />
<rect x="103.66" y="311.25" width="5.35" height="21.95" fill="#ef8d94" stroke="#6a6a6a" stroke-width="0.45" />
<line x1="106.34" y1="308.85" x2="106.34" y2="313.64" stroke="#111" stroke-width="0.8" />
<line x1="104.84" y1="308.85" x2="107.84" y2="308.85" stroke="#111" stroke-width="0.8" />
<line x1="104.84" y1="313.64" x2="107.84" y2="313.64" stroke="#111" stroke-width="0.8" />
<line x1="106.34" y1="296.85" x2="106.34" y2="301.64" stroke="#666" stroke-width="0.6" />
<line x1="104.84" y1="296.85" x2="107.84" y2="296.85" stroke="#666" stroke-width="0.6" />
<line x1="104.84" y1="301.64" x2="107.84" y2="301.64" stroke="#666" stroke-width="0.6" />
<rect x="119.39" y="303.70" width="5.35" height="26.07" fill="#efe7a6" stroke="#6a6a6a" stroke-width="0.45" />
<rect x="119.39" y="329.77" width="5.35" height="3.43" fill="#ecc83c" stroke="#6a6a6a" stroke-width="0.45" />
<line x1="122.06" y1="326.69" x2="122.06" y2="332.85" stroke="#111" stroke-width="0.8" />
<line x1="120.56" y1="326.69" x2="123.56" y2="326.69" stroke="#111" stroke-width="0.8" />
<line x1="120.56" y1="332.85" x2="123.56" y2="332.85" stroke="#111" stroke-width="0.8" />
<line x1="122.06" y1="300.28" x2="122.06" y2="307.12" stroke="#666" stroke-width="0.6" />
<line x1="120.56" y1="300.28" x2="123.56" y2="300.28" stroke="#666" stroke-width="0.6" />
<line x1="120.56" y1="307.12" x2="123.56" y2="307.12" stroke="#666" stroke-width="0.6" />
<rect x="124.74" y="299.59" width="5.35" height="5.66" fill="#c2e4f6" stroke="#6a6a6a" stroke-width="0.45" />
<rect x="124.74" y="305.25" width="5.35" height="27.95" fill="#6cb6ee" stroke="#6a6a6a" stroke-width="0.45" />
<line x1="127.41" y1="300.97" x2="127.41" y2="309.52" stroke="#111" stroke-width="0.8" />
<line x1="125.91" y1="300.97" x2="128.91" y2="300.97" stroke="#111" stroke-width="0.8" />
<line x1="125.91" y1="309.52" x2="128.91" y2="309.52" stroke="#111" stroke-width="0.8" />
<line x1="127.41" y1="295.31" x2="127.41" y2="303.86" stroke="#666" stroke-width="0.6" />
<line x1="125.91" y1="295.31" x2="128.91" y2="295.31" stroke="#666" stroke-width="0.6" />
<line x1="125.91" y1="303.86" x2="128.91" y2="303.86" stroke="#666" stroke-width="0.6" />
<rect x="130.09" y="280.38" width="5.35" height="19.21" fill="#f5d3d8" stroke="#6a6a6a" stroke-width="0.45" />
<rect x="130.09" y="299.59" width="5.35" height="33.61" fill="#ef8d94" stroke="#6a6a6a" stroke-width="0.45" />
<line x1="132.76" y1="297.88" x2="132.76" y2="301.30" stroke="#111" stroke-width="0.8" />
<line x1="131.26" y1="297.88" x2="134.26" y2="297.88" stroke="#111" stroke-width="0.8" />
<line x1="131.26" y1="301.30" x2="134.26" y2="301.30" stroke="#111" stroke-width="0.8" />
<line x1="132.76" y1="279.52" x2="132.76" y2="281.23" stroke="#666" stroke-width="0.6" />
<line x1="131.26" y1="279.52" x2="134.26" y2="279.52" stroke="#666" stroke-width="0.6" />
<line x1="131.26" y1="281.23" x2="134.26" y2="281.23" stroke="#666" stroke-width="0.6" />
<rect x="145.82" y="285.18" width="5.35" height="43.73" fill="#efe7a6" stroke="#6a6a6a" stroke-width="0.45" />
<rect x="145.82" y="328.91" width="5.35" height="4.29" fill="#ecc83c" stroke="#6a6a6a" stroke-width="0.45" />
<line x1="148.50" y1="325.83" x2="148.50" y2="331.99" stroke="#111" stroke-width="0.8" />
<line x1="147.00" y1="325.83" x2="150.00" y2="325.83" stroke="#111" stroke-width="0.8" />
<line x1="147.00" y1="331.99" x2="150.00" y2="331.99" stroke="#111" stroke-width="0.8" />
<line x1="148.50" y1="282.10" x2="148.50" y2="288.26" stroke="#666" stroke-width="0.6" />
<line x1="147.00" y1="282.10" x2="150.00" y2="282.10" stroke="#666" stroke-width="0.6" />
<line x1="147.00" y1="288.26" x2="150.00" y2="288.26" stroke="#666" stroke-width="0.6" />
<rect x="151.17" y="276.95" width="5.35" height="9.95" fill="#c2e4f6" stroke="#6a6a6a" stroke-width="0.45" />
<rect x="151.17" y="286.89" width="5.35" height="46.31" fill="#6cb6ee" stroke="#6a6a6a" stroke-width="0.45" />
<line x1="153.84" y1="281.76" x2="153.84" y2="292.02" stroke="#111" stroke-width="0.8" />
<line x1="152.34" y1="281.76" x2="155.34" y2="281.76" stroke="#111" stroke-width="0.8" />
<line x1="152.34" y1="292.02" x2="155.34" y2="292.02" stroke="#111" stroke-width="0.8" />
<line x1="153.84" y1="271.82" x2="153.84" y2="282.08" stroke="#666" stroke-width="0.6" />
<line x1="152.34" y1="271.82" x2="155.34" y2="271.82" stroke="#666" stroke-width="0.6" />
<line x1="152.34" y1="282.08" x2="155.34" y2="282.08" stroke="#666" stroke-width="0.6" />
<rect x="156.52" y="257.40" width="5.35" height="24.70" fill="#f5d3d8" stroke="#6a6a6a" stroke-width="0.45" />
<rect x="156.52" y="282.09" width="5.35" height="51.11" fill="#ef8d94" stroke="#6a6a6a" stroke-width="0.45" />
<line x1="159.19" y1="280.38" x2="159.19" y2="283.80" stroke="#111" stroke-width="0.8" />
<line x1="157.69" y1="280.38" x2="160.69" y2="280.38" stroke="#111" stroke-width="0.8" />
<line x1="157.69" y1="283.80" x2="160.69" y2="283.80" stroke="#111" stroke-width="0.8" />
<line x1="159.19" y1="256.03" x2="159.19" y2="258.76" stroke="#666" stroke-width="0.6" />
<line x1="157.69" y1="256.03" x2="160.69" y2="256.03" stroke="#666" stroke-width="0.6" />
<line x1="157.69" y1="258.76" x2="160.69" y2="258.76" stroke="#666" stroke-width="0.6" />
<rect x="172.25" y="263.57" width="5.35" height="64.48" fill="#efe7a6" stroke="#6a6a6a" stroke-width="0.45" />
<rect x="172.25" y="328.06" width="5.35" height="5.14" fill="#ecc83c" stroke="#6a6a6a" stroke-width="0.45" />
<line x1="174.93" y1="327.37" x2="174.93" y2="328.74" stroke="#111" stroke-width="0.8" />
<line x1="173.43" y1="327.37" x2="176.43" y2="327.37" stroke="#111" stroke-width="0.8" />
<line x1="173.43" y1="328.74" x2="176.43" y2="328.74" stroke="#111" stroke-width="0.8" />
<line x1="174.93" y1="262.72" x2="174.93" y2="264.43" stroke="#666" stroke-width="0.6" />
<line x1="173.43" y1="262.72" x2="176.43" y2="262.72" stroke="#666" stroke-width="0.6" />
<line x1="173.43" y1="264.43" x2="176.43" y2="264.43" stroke="#666" stroke-width="0.6" />
<rect x="177.60" y="252.25" width="5.35" height="13.55" fill="#c2e4f6" stroke="#6a6a6a" stroke-width="0.45" />
<rect x="177.60" y="265.80" width="5.35" height="67.40" fill="#6cb6ee" stroke="#6a6a6a" stroke-width="0.45" />
<line x1="180.28" y1="262.38" x2="180.28" y2="269.22" stroke="#111" stroke-width="0.8" />
<line x1="178.78" y1="262.38" x2="181.78" y2="262.38" stroke="#111" stroke-width="0.8" />
<line x1="178.78" y1="269.22" x2="181.78" y2="269.22" stroke="#111" stroke-width="0.8" />
<line x1="180.28" y1="247.98" x2="180.28" y2="256.53" stroke="#666" stroke-width="0.6" />
<line x1="178.78" y1="247.98" x2="181.78" y2="247.98" stroke="#666" stroke-width="0.6" />
<line x1="178.78" y1="256.53" x2="181.78" y2="256.53" stroke="#666" stroke-width="0.6" />
<rect x="182.95" y="239.22" width="5.35" height="28.98" fill="#f5d3d8" stroke="#6a6a6a" stroke-width="0.45" />
<rect x="182.95" y="268.20" width="5.35" height="65.00" fill="#ef8d94" stroke="#6a6a6a" stroke-width="0.45" />
<line x1="185.62" y1="267.18" x2="185.62" y2="269.23" stroke="#111" stroke-width="0.8" />
<line x1="184.12" y1="267.18" x2="187.12" y2="267.18" stroke="#111" stroke-width="0.8" />
<line x1="184.12" y1="269.23" x2="187.12" y2="269.23" stroke="#111" stroke-width="0.8" />
<line x1="185.62" y1="237.85" x2="185.62" y2="240.59" stroke="#666" stroke-width="0.6" />
<line x1="184.12" y1="237.85" x2="187.12" y2="237.85" stroke="#666" stroke-width="0.6" />
<line x1="184.12" y1="240.59" x2="187.12" y2="240.59" stroke="#666" stroke-width="0.6" />
<rect x="198.68" y="248.82" width="5.35" height="75.80" fill="#efe7a6" stroke="#6a6a6a" stroke-width="0.45" />
<rect x="198.68" y="324.62" width="5.35" height="8.57" fill="#ecc83c" stroke="#6a6a6a" stroke-width="0.45" />
<line x1="201.35" y1="322.92" x2="201.35" y2="326.33" stroke="#111" stroke-width="0.8" />
<line x1="199.85" y1="322.92" x2="202.85" y2="322.92" stroke="#111" stroke-width="0.8" />
<line x1="199.85" y1="326.33" x2="202.85" y2="326.33" stroke="#111" stroke-width="0.8" />
<line x1="201.35" y1="247.62" x2="201.35" y2="250.02" stroke="#666" stroke-width="0.6" />
<line x1="199.85" y1="247.62" x2="202.85" y2="247.62" stroke="#666" stroke-width="0.6" />
<line x1="199.85" y1="250.02" x2="202.85" y2="250.02" stroke="#666" stroke-width="0.6" />
<rect x="204.03" y="244.53" width="5.35" height="10.98" fill="#c2e4f6" stroke="#6a6a6a" stroke-width="0.45" />
<rect x="204.03" y="255.51" width="5.35" height="77.69" fill="#6cb6ee" stroke="#6a6a6a" stroke-width="0.45" />
<line x1="206.70" y1="252.09" x2="206.70" y2="258.93" stroke="#111" stroke-width="0.8" />
<line x1="205.20" y1="252.09" x2="208.20" y2="252.09" stroke="#111" stroke-width="0.8" />
<line x1="205.20" y1="258.93" x2="208.20" y2="258.93" stroke="#111" stroke-width="0.8" />
<line x1="206.70" y1="237.69" x2="206.70" y2="251.37" stroke="#666" stroke-width="0.6" />
<line x1="205.20" y1="237.69" x2="208.20" y2="237.69" stroke="#666" stroke-width="0.6" />
<line x1="205.20" y1="251.37" x2="208.20" y2="251.37" stroke="#666" stroke-width="0.6" />
<rect x="209.38" y="202.86" width="5.35" height="29.15" fill="#f5d3d8" stroke="#6a6a6a" stroke-width="0.45" />
<rect x="209.38" y="232.01" width="5.35" height="101.19" fill="#ef8d94" stroke="#6a6a6a" stroke-width="0.45" />
<line x1="212.05" y1="229.28" x2="212.05" y2="234.75" stroke="#111" stroke-width="0.8" />
<line x1="210.55" y1="229.28" x2="213.55" y2="229.28" stroke="#111" stroke-width="0.8" />
<line x1="210.55" y1="234.75" x2="213.55" y2="234.75" stroke="#111" stroke-width="0.8" />
<line x1="212.05" y1="199.44" x2="212.05" y2="206.28" stroke="#666" stroke-width="0.6" />
<line x1="210.55" y1="199.44" x2="213.55" y2="199.44" stroke="#666" stroke-width="0.6" />
<line x1="210.55" y1="206.28" x2="213.55" y2="206.28" stroke="#666" stroke-width="0.6" />
<rect x="35.20" y="196.00" width="185.30" height="137.20" fill="none" stroke="#000" stroke-width="1.8" />
<line x1="35.20" y1="333.20" x2="38.20" y2="333.20" stroke="#000" stroke-width="1.6" />
<text x="31.20" y="337.10" font-size="10.8" text-anchor="end" fill="#1a1a1a" >0</text>
<line x1="35.20" y1="298.90" x2="38.20" y2="298.90" stroke="#000" stroke-width="1.6" />
<text x="31.20" y="302.80" font-size="10.8" text-anchor="end" fill="#1a1a1a" >-20</text>
<line x1="35.20" y1="264.60" x2="38.20" y2="264.60" stroke="#000" stroke-width="1.6" />
<text x="31.20" y="268.50" font-size="10.8" text-anchor="end" fill="#1a1a1a" >-40</text>
<line x1="35.20" y1="230.30" x2="38.20" y2="230.30" stroke="#000" stroke-width="1.6" />
<text x="31.20" y="234.20" font-size="10.8" text-anchor="end" fill="#1a1a1a" >-60</text>
<line x1="35.20" y1="196.00" x2="38.20" y2="196.00" stroke="#000" stroke-width="1.6" />
<text x="31.20" y="199.90" font-size="10.8" text-anchor="end" fill="#1a1a1a" >-80</text>
<line x1="48.12" y1="333.20" x2="48.12" y2="336.20" stroke="#000" stroke-width="1.6" />
<text x="48.12" y="344.90" font-size="10.8" text-anchor="middle" fill="#1a1a1a" >-0.5</text>
<line x1="74.56" y1="333.20" x2="74.56" y2="336.20" stroke="#000" stroke-width="1.6" />
<text x="74.56" y="344.90" font-size="10.8" text-anchor="middle" fill="#1a1a1a" >-0.6</text>
<line x1="100.99" y1="333.20" x2="100.99" y2="336.20" stroke="#000" stroke-width="1.6" />
<text x="100.99" y="344.90" font-size="10.8" text-anchor="middle" fill="#1a1a1a" >-0.7</text>
<line x1="127.41" y1="333.20" x2="127.41" y2="336.20" stroke="#000" stroke-width="1.6" />
<text x="127.41" y="344.90" font-size="10.8" text-anchor="middle" fill="#1a1a1a" >-0.8</text>
<line x1="153.84" y1="333.20" x2="153.84" y2="336.20" stroke="#000" stroke-width="1.6" />
<text x="153.84" y="344.90" font-size="10.8" text-anchor="middle" fill="#1a1a1a" >-0.9</text>
<line x1="180.28" y1="333.20" x2="180.28" y2="336.20" stroke="#000" stroke-width="1.6" />
<text x="180.28" y="344.90" font-size="10.8" text-anchor="middle" fill="#1a1a1a" >-1.0</text>
<line x1="206.70" y1="333.20" x2="206.70" y2="336.20" stroke="#000" stroke-width="1.6" />
<text x="206.70" y="344.90" font-size="10.8" text-anchor="middle" fill="#1a1a1a" >-1.1</text>
<text x="127.00" y="363.00" font-size="11.8" text-anchor="middle" fill="#1a1a1a" >Potential (V <tspan font-style="italic">vs.</tspan> RHE)</text>
<text transform="translate(12.3,262.7) rotate(-90)" font-size="12.3" text-anchor="middle" fill="#1a1a1a"><tspan font-style="italic">j</tspan> (mA cm<tspan dy="-4.4" font-size="7.4">-2</tspan><tspan dy="4.4">)</tspan></text>
<rect x="39.70" y="199.70" width="18.60" height="8.60" fill="#ef8d94" stroke="#6a6a6a" stroke-width="0.5" />
<text x="61.80" y="207.20" font-size="8.7" text-anchor="start" fill="#1a1a1a" >Ni SAs-Co NPs H<tspan dy="2" font-size="6">2</tspan></text>
<rect x="39.70" y="213.50" width="18.60" height="8.60" fill="#f5d3d8" stroke="#6a6a6a" stroke-width="0.5" />
<text x="61.80" y="221.00" font-size="8.7" text-anchor="start" fill="#1a1a1a" >Ni SAs-Co NPs CO</text>
<rect x="39.70" y="225.00" width="18.60" height="8.60" fill="#6cb6ee" stroke="#6a6a6a" stroke-width="0.5" />
<text x="61.80" y="232.50" font-size="8.7" text-anchor="start" fill="#1a1a1a" >Co NPs H<tspan dy="2" font-size="6">2</tspan></text>
<rect x="39.70" y="238.60" width="18.60" height="8.60" fill="#c2e4f6" stroke="#6a6a6a" stroke-width="0.5" />
<text x="61.80" y="246.10" font-size="8.7" text-anchor="start" fill="#1a1a1a" >Co NPs CO</text>
<rect x="39.70" y="252.40" width="18.60" height="8.60" fill="#ecc83c" stroke="#6a6a6a" stroke-width="0.5" />
<text x="61.80" y="259.90" font-size="8.7" text-anchor="start" fill="#1a1a1a" >Ni SAs H<tspan dy="2" font-size="6">2</tspan></text>
<rect x="39.70" y="266.00" width="18.60" height="8.60" fill="#efe7a6" stroke="#6a6a6a" stroke-width="0.5" />
<text x="61.80" y="273.50" font-size="8.7" text-anchor="start" fill="#1a1a1a" >Ni SAs CO</text>
<circle cx="275.80" cy="223.00" r="2.8" fill="url(#ballg)"/>
<circle cx="286.01" cy="221.60" r="2.8" fill="url(#ballg)"/>
<circle cx="296.23" cy="221.10" r="2.8" fill="url(#ballg)"/>
<circle cx="306.44" cy="221.60" r="2.8" fill="url(#ballg)"/>
<circle cx="316.66" cy="222.00" r="2.8" fill="url(#ballg)"/>
<circle cx="326.88" cy="222.70" r="2.8" fill="url(#ballg)"/>
<circle cx="337.09" cy="222.70" r="2.8" fill="url(#ballg)"/>
<circle cx="347.31" cy="223.00" r="2.8" fill="url(#ballg)"/>
<circle cx="357.52" cy="223.00" r="2.8" fill="url(#ballg)"/>
<circle cx="367.74" cy="223.00" r="2.8" fill="url(#ballg)"/>
<circle cx="377.95" cy="222.70" r="2.8" fill="url(#ballg)"/>
<circle cx="388.17" cy="222.00" r="2.8" fill="url(#ballg)"/>
<circle cx="398.38" cy="222.70" r="2.8" fill="url(#ballg)"/>
<circle cx="408.60" cy="221.30" r="2.8" fill="url(#ballg)"/>
<circle cx="418.81" cy="221.50" r="2.8" fill="url(#ballg)"/>
<circle cx="429.02" cy="220.90" r="2.8" fill="url(#ballg)"/>
<circle cx="439.24" cy="221.70" r="2.8" fill="url(#ballg)"/>
<circle cx="449.46" cy="221.70" r="2.8" fill="url(#ballg)"/>
<circle cx="459.67" cy="220.90" r="2.8" fill="url(#ballg)"/>
<circle cx="469.88" cy="220.30" r="2.8" fill="url(#ballg)"/>
<circle cx="480.10" cy="222.60" r="2.8" fill="url(#ballg)"/>
<circle cx="490.31" cy="222.60" r="2.8" fill="url(#ballg)"/>
<circle cx="500.53" cy="221.70" r="2.8" fill="url(#ballg)"/>
<circle cx="510.75" cy="221.70" r="2.8" fill="url(#ballg)"/>
<circle cx="520.96" cy="221.70" r="2.8" fill="url(#ballg)"/>
<circle cx="531.17" cy="221.70" r="2.8" fill="url(#ballg)"/>
<circle cx="541.39" cy="221.70" r="2.8" fill="url(#ballg)"/>
<circle cx="551.61" cy="220.90" r="2.8" fill="url(#ballg)"/>
<circle cx="561.82" cy="221.70" r="2.8" fill="url(#ballg)"/>
<circle cx="572.04" cy="221.70" r="2.8" fill="url(#ballg)"/>
<circle cx="582.25" cy="221.70" r="2.8" fill="url(#ballg)"/>
<circle cx="592.47" cy="222.30" r="2.8" fill="url(#ballg)"/>
<circle cx="602.68" cy="221.50" r="2.8" fill="url(#ballg)"/>
<circle cx="612.89" cy="220.80" r="2.8" fill="url(#ballg)"/>
<circle cx="623.11" cy="221.50" r="2.8" fill="url(#ballg)"/>
<circle cx="633.33" cy="221.20" r="2.8" fill="url(#ballg)"/>
<circle cx="643.54" cy="222.20" r="2.8" fill="url(#ballg)"/>
<circle cx="650.20" cy="221.50" r="2.8" fill="url(#ballg)"/>
<path d="M329.90,230.10 L329.90,236.20 L294.80,236.20" stroke="#000" stroke-width="2.1" fill="none" stroke-linejoin="miter" stroke-linecap="butt"/>
<path d="M288.80,236.20 L297.00,233.00 L296.20,236.20 L297.00,239.40 Z" stroke="none" stroke-width="1" fill="#000" />
<path d="M600.10,269.90 L600.10,263.10 L636.50,263.10" stroke="#ff1f1f" stroke-width="2.1" fill="none" stroke-linejoin="miter" stroke-linecap="butt"/>
<path d="M642.50,263.10 L634.50,260.10 L635.30,263.10 L634.50,266.10 Z" stroke="none" stroke-width="1" fill="#ff1f1f" />
<line x1="286.19" y1="273.60" x2="286.19" y2="284.20" stroke="#ff1f1f" stroke-width="1.3" />
<line x1="284.09" y1="273.60" x2="288.29" y2="273.60" stroke="#ff1f1f" stroke-width="1.3" />
<line x1="284.09" y1="284.20" x2="288.29" y2="284.20" stroke="#ff1f1f" stroke-width="1.3" />
<circle cx="286.19" cy="278.90" r="2.9" fill="url(#redg)"/>
<line x1="317.06" y1="276.60" x2="317.06" y2="285.60" stroke="#ff1f1f" stroke-width="1.3" />
<line x1="314.96" y1="276.60" x2="319.16" y2="276.60" stroke="#ff1f1f" stroke-width="1.3" />
<line x1="314.96" y1="285.60" x2="319.16" y2="285.60" stroke="#ff1f1f" stroke-width="1.3" />
<circle cx="317.06" cy="281.10" r="2.9" fill="url(#redg)"/>
<line x1="358.22" y1="277.30" x2="358.22" y2="285.30" stroke="#ff1f1f" stroke-width="1.3" />
<line x1="356.12" y1="277.30" x2="360.32" y2="277.30" stroke="#ff1f1f" stroke-width="1.3" />
<line x1="356.12" y1="285.30" x2="360.32" y2="285.30" stroke="#ff1f1f" stroke-width="1.3" />
<circle cx="358.22" cy="281.30" r="2.9" fill="url(#redg)"/>
<line x1="399.38" y1="275.80" x2="399.38" y2="283.40" stroke="#ff1f1f" stroke-width="1.3" />
<line x1="397.28" y1="275.80" x2="401.48" y2="275.80" stroke="#ff1f1f" stroke-width="1.3" />
<line x1="397.28" y1="283.40" x2="401.48" y2="283.40" stroke="#ff1f1f" stroke-width="1.3" />
<circle cx="399.38" cy="279.60" r="2.9" fill="url(#redg)"/>
<line x1="440.54" y1="276.80" x2="440.54" y2="284.40" stroke="#ff1f1f" stroke-width="1.3" />
<line x1="438.44" y1="276.80" x2="442.64" y2="276.80" stroke="#ff1f1f" stroke-width="1.3" />
<line x1="438.44" y1="284.40" x2="442.64" y2="284.40" stroke="#ff1f1f" stroke-width="1.3" />
<circle cx="440.54" cy="280.60" r="2.9" fill="url(#redg)"/>
<line x1="481.70" y1="277.40" x2="481.70" y2="284.60" stroke="#ff1f1f" stroke-width="1.3" />
<line x1="479.60" y1="277.40" x2="483.80" y2="277.40" stroke="#ff1f1f" stroke-width="1.3" />
<line x1="479.60" y1="284.60" x2="483.80" y2="284.60" stroke="#ff1f1f" stroke-width="1.3" />
<circle cx="481.70" cy="281.00" r="2.9" fill="url(#redg)"/>
<line x1="522.86" y1="276.60" x2="522.86" y2="284.20" stroke="#ff1f1f" stroke-width="1.3" />
<line x1="520.76" y1="276.60" x2="524.96" y2="276.60" stroke="#ff1f1f" stroke-width="1.3" />
<line x1="520.76" y1="284.20" x2="524.96" y2="284.20" stroke="#ff1f1f" stroke-width="1.3" />
<circle cx="522.86" cy="280.40" r="2.9" fill="url(#redg)"/>
<line x1="564.02" y1="276.20" x2="564.02" y2="283.00" stroke="#ff1f1f" stroke-width="1.3" />
<line x1="561.92" y1="276.20" x2="566.12" y2="276.20" stroke="#ff1f1f" stroke-width="1.3" />
<line x1="561.92" y1="283.00" x2="566.12" y2="283.00" stroke="#ff1f1f" stroke-width="1.3" />
<circle cx="564.02" cy="279.60" r="2.9" fill="url(#redg)"/>
<line x1="605.18" y1="275.60" x2="605.18" y2="284.00" stroke="#ff1f1f" stroke-width="1.3" />
<line x1="603.08" y1="275.60" x2="607.28" y2="275.60" stroke="#ff1f1f" stroke-width="1.3" />
<line x1="603.08" y1="284.00" x2="607.28" y2="284.00" stroke="#ff1f1f" stroke-width="1.3" />
<circle cx="605.18" cy="279.80" r="2.9" fill="url(#redg)"/>
<line x1="646.34" y1="274.40" x2="646.34" y2="284.00" stroke="#ff1f1f" stroke-width="1.3" />
<line x1="644.24" y1="274.40" x2="648.44" y2="274.40" stroke="#ff1f1f" stroke-width="1.3" />
<line x1="644.24" y1="284.00" x2="648.44" y2="284.00" stroke="#ff1f1f" stroke-width="1.3" />
<circle cx="646.34" cy="279.20" r="2.9" fill="url(#redg)"/>
<path d="M655.80,195.30 L270.30,195.30 L270.30,329.80 L655.80,329.80" stroke="#000" stroke-width="1.8" fill="none" />
<line x1="655.80" y1="194.40" x2="655.80" y2="330.70" stroke="#ff1f1f" stroke-width="1.8" />
<line x1="270.30" y1="195.30" x2="273.30" y2="195.30" stroke="#000" stroke-width="1.6" />
<text x="266.30" y="198.90" font-size="10.0" text-anchor="end" fill="#1a1a1a" >0</text>
<line x1="270.30" y1="222.20" x2="273.30" y2="222.20" stroke="#000" stroke-width="1.6" />
<text x="266.30" y="225.80" font-size="10.0" text-anchor="end" fill="#1a1a1a" >-30</text>
<line x1="270.30" y1="249.10" x2="273.30" y2="249.10" stroke="#000" stroke-width="1.6" />
<text x="266.30" y="252.70" font-size="10.0" text-anchor="end" fill="#1a1a1a" >-60</text>
<line x1="270.30" y1="276.00" x2="273.30" y2="276.00" stroke="#000" stroke-width="1.6" />
<text x="266.30" y="279.60" font-size="10.0" text-anchor="end" fill="#1a1a1a" >-90</text>
<line x1="270.30" y1="302.90" x2="273.30" y2="302.90" stroke="#000" stroke-width="1.6" />
<text x="266.30" y="306.50" font-size="10.0" text-anchor="end" fill="#1a1a1a" >-120</text>
<line x1="275.60" y1="329.80" x2="275.60" y2="332.80" stroke="#000" stroke-width="1.6" />
<text x="275.60" y="342.80" font-size="10.0" text-anchor="middle" fill="#1a1a1a" >0</text>
<line x1="378.50" y1="329.80" x2="378.50" y2="332.80" stroke="#000" stroke-width="1.6" />
<text x="378.50" y="342.80" font-size="10.0" text-anchor="middle" fill="#1a1a1a" >10</text>
<line x1="481.40" y1="329.80" x2="481.40" y2="332.80" stroke="#000" stroke-width="1.6" />
<text x="481.40" y="342.80" font-size="10.0" text-anchor="middle" fill="#1a1a1a" >20</text>
<line x1="584.30" y1="329.80" x2="584.30" y2="332.80" stroke="#000" stroke-width="1.6" />
<text x="584.30" y="342.80" font-size="10.0" text-anchor="middle" fill="#1a1a1a" >30</text>
<line x1="652.80" y1="329.80" x2="655.80" y2="329.80" stroke="#ff1f1f" stroke-width="1.6" />
<text x="658.60" y="333.40" font-size="10.0" text-anchor="start" fill="#ff1f1f" >0</text>
<line x1="652.80" y1="275.00" x2="655.80" y2="275.00" stroke="#ff1f1f" stroke-width="1.6" />
<text x="658.60" y="278.60" font-size="10.0" text-anchor="start" fill="#ff1f1f" >2</text>
<line x1="652.80" y1="220.20" x2="655.80" y2="220.20" stroke="#ff1f1f" stroke-width="1.6" />
<text x="658.60" y="223.80" font-size="10.0" text-anchor="start" fill="#ff1f1f" >4</text>
<text x="463.30" y="360.30" font-size="12.0" text-anchor="middle" fill="#1a1a1a" >Time (h)</text>
<text transform="translate(246.3,262.9) rotate(-90)" font-size="12.3" text-anchor="middle" fill="#1a1a1a"><tspan font-style="italic">j</tspan> (mA cm<tspan dy="-4.4" font-size="7.4">-2</tspan><tspan dy="4.4"> )</tspan></text>
<text transform="translate(672.3,262.8) rotate(90)" font-size="12.0" text-anchor="middle" fill="#ff1f1f">FE<tspan dy="3.4" font-size="8.6">H<tspan dy="1.8" font-size="5.8">2</tspan></tspan><tspan dy="-5.2"> /FE</tspan><tspan dy="3.4" font-size="8.6">CO</tspan></text>
<circle cx="276.10" cy="430.60" r="2.8" fill="url(#ballg)"/>
<circle cx="287.82" cy="429.70" r="2.8" fill="url(#ballg)"/>
<circle cx="299.54" cy="431.70" r="2.8" fill="url(#ballg)"/>
<circle cx="311.26" cy="428.30" r="2.8" fill="url(#ballg)"/>
<circle cx="322.98" cy="429.70" r="2.8" fill="url(#ballg)"/>
<circle cx="334.70" cy="429.70" r="2.8" fill="url(#ballg)"/>
<circle cx="346.42" cy="429.70" r="2.8" fill="url(#ballg)"/>
<circle cx="358.14" cy="430.60" r="2.8" fill="url(#ballg)"/>
<circle cx="369.86" cy="431.10" r="2.8" fill="url(#ballg)"/>
<circle cx="381.58" cy="430.60" r="2.8" fill="url(#ballg)"/>
<circle cx="393.30" cy="429.20" r="2.8" fill="url(#ballg)"/>
<circle cx="405.02" cy="429.70" r="2.8" fill="url(#ballg)"/>
<circle cx="416.74" cy="429.70" r="2.8" fill="url(#ballg)"/>
<circle cx="428.46" cy="429.70" r="2.8" fill="url(#ballg)"/>
<circle cx="440.18" cy="429.70" r="2.8" fill="url(#ballg)"/>
<circle cx="451.90" cy="429.70" r="2.8" fill="url(#ballg)"/>
<circle cx="463.62" cy="428.80" r="2.8" fill="url(#ballg)"/>
<circle cx="475.34" cy="431.10" r="2.8" fill="url(#ballg)"/>
<circle cx="487.06" cy="430.20" r="2.8" fill="url(#ballg)"/>
<circle cx="498.78" cy="431.70" r="2.8" fill="url(#ballg)"/>
<circle cx="510.50" cy="431.10" r="2.8" fill="url(#ballg)"/>
<circle cx="522.22" cy="430.20" r="2.8" fill="url(#ballg)"/>
<circle cx="533.94" cy="431.10" r="2.8" fill="url(#ballg)"/>
<circle cx="545.66" cy="430.20" r="2.8" fill="url(#ballg)"/>
<circle cx="557.38" cy="429.30" r="2.8" fill="url(#ballg)"/>
<circle cx="569.10" cy="430.20" r="2.8" fill="url(#ballg)"/>
<circle cx="580.82" cy="429.60" r="2.8" fill="url(#ballg)"/>
<circle cx="592.54" cy="430.20" r="2.8" fill="url(#ballg)"/>
<circle cx="604.26" cy="430.20" r="2.8" fill="url(#ballg)"/>
<circle cx="615.98" cy="430.20" r="2.8" fill="url(#ballg)"/>
<circle cx="627.70" cy="430.20" r="2.8" fill="url(#ballg)"/>
<circle cx="639.42" cy="431.70" r="2.8" fill="url(#ballg)"/>
<circle cx="651.14" cy="431.70" r="2.8" fill="url(#ballg)"/>
<path d="M329.90,436.20 L329.90,443.20 L294.30,443.20" stroke="#000" stroke-width="2.1" fill="none" stroke-linejoin="miter" stroke-linecap="butt"/>
<path d="M288.30,443.20 L296.50,440.00 L295.70,443.20 L296.50,446.40 Z" stroke="none" stroke-width="1" fill="#000" />
<path d="M599.90,470.80 L599.90,464.30 L637.00,464.30" stroke="#ff1f1f" stroke-width="2.1" fill="none" stroke-linejoin="miter" stroke-linecap="butt"/>
<path d="M643.00,464.30 L635.00,461.30 L635.80,464.30 L635.00,467.30 Z" stroke="none" stroke-width="1" fill="#ff1f1f" />
<line x1="283.13" y1="484.80" x2="283.13" y2="492.40" stroke="#ff1f1f" stroke-width="1.3" />
<line x1="281.03" y1="484.80" x2="285.23" y2="484.80" stroke="#ff1f1f" stroke-width="1.3" />
<line x1="281.03" y1="492.40" x2="285.23" y2="492.40" stroke="#ff1f1f" stroke-width="1.3" />
<circle cx="283.13" cy="488.60" r="2.9" fill="url(#redg)"/>
<line x1="322.30" y1="479.80" x2="322.30" y2="488.20" stroke="#ff1f1f" stroke-width="1.3" />
<line x1="320.20" y1="479.80" x2="324.40" y2="479.80" stroke="#ff1f1f" stroke-width="1.3" />
<line x1="320.20" y1="488.20" x2="324.40" y2="488.20" stroke="#ff1f1f" stroke-width="1.3" />
<circle cx="322.30" cy="484.00" r="2.9" fill="url(#redg)"/>
<line x1="361.46" y1="479.40" x2="361.46" y2="487.00" stroke="#ff1f1f" stroke-width="1.3" />
<line x1="359.36" y1="479.40" x2="363.56" y2="479.40" stroke="#ff1f1f" stroke-width="1.3" />
<line x1="359.36" y1="487.00" x2="363.56" y2="487.00" stroke="#ff1f1f" stroke-width="1.3" />
<circle cx="361.46" cy="483.20" r="2.9" fill="url(#redg)"/>
<line x1="400.63" y1="482.70" x2="400.63" y2="489.90" stroke="#ff1f1f" stroke-width="1.3" />
<line x1="398.53" y1="482.70" x2="402.73" y2="482.70" stroke="#ff1f1f" stroke-width="1.3" />
<line x1="398.53" y1="489.90" x2="402.73" y2="489.90" stroke="#ff1f1f" stroke-width="1.3" />
<circle cx="400.63" cy="486.30" r="2.9" fill="url(#redg)"/>
<line x1="439.80" y1="481.70" x2="439.80" y2="490.90" stroke="#ff1f1f" stroke-width="1.3" />
<line x1="437.70" y1="481.70" x2="441.90" y2="481.70" stroke="#ff1f1f" stroke-width="1.3" />
<line x1="437.70" y1="490.90" x2="441.90" y2="490.90" stroke="#ff1f1f" stroke-width="1.3" />
<circle cx="439.80" cy="486.30" r="2.9" fill="url(#redg)"/>
<line x1="478.97" y1="476.80" x2="478.97" y2="484.80" stroke="#ff1f1f" stroke-width="1.3" />
<line x1="476.87" y1="476.80" x2="481.07" y2="476.80" stroke="#ff1f1f" stroke-width="1.3" />
<line x1="476.87" y1="484.80" x2="481.07" y2="484.80" stroke="#ff1f1f" stroke-width="1.3" />
<circle cx="478.97" cy="480.80" r="2.9" fill="url(#redg)"/>
<line x1="518.14" y1="474.40" x2="518.14" y2="482.40" stroke="#ff1f1f" stroke-width="1.3" />
<line x1="516.04" y1="474.40" x2="520.24" y2="474.40" stroke="#ff1f1f" stroke-width="1.3" />
<line x1="516.04" y1="482.40" x2="520.24" y2="482.40" stroke="#ff1f1f" stroke-width="1.3" />
<circle cx="518.14" cy="478.40" r="2.9" fill="url(#redg)"/>
<line x1="557.30" y1="476.10" x2="557.30" y2="484.10" stroke="#ff1f1f" stroke-width="1.3" />
<line x1="555.20" y1="476.10" x2="559.40" y2="476.10" stroke="#ff1f1f" stroke-width="1.3" />
<line x1="555.20" y1="484.10" x2="559.40" y2="484.10" stroke="#ff1f1f" stroke-width="1.3" />
<circle cx="557.30" cy="480.10" r="2.9" fill="url(#redg)"/>
<line x1="596.47" y1="473.60" x2="596.47" y2="482.40" stroke="#ff1f1f" stroke-width="1.3" />
<line x1="594.37" y1="473.60" x2="598.57" y2="473.60" stroke="#ff1f1f" stroke-width="1.3" />
<line x1="594.37" y1="482.40" x2="598.57" y2="482.40" stroke="#ff1f1f" stroke-width="1.3" />
<circle cx="596.47" cy="478.00" r="2.9" fill="url(#redg)"/>
<line x1="635.64" y1="473.50" x2="635.64" y2="479.50" stroke="#ff1f1f" stroke-width="1.3" />
<line x1="633.54" y1="473.50" x2="637.74" y2="473.50" stroke="#ff1f1f" stroke-width="1.3" />
<line x1="633.54" y1="479.50" x2="637.74" y2="479.50" stroke="#ff1f1f" stroke-width="1.3" />
<circle cx="635.64" cy="476.50" r="2.9" fill="url(#redg)"/>
<path d="M653.70,384.20 L270.30,384.20 L270.30,528.20 L653.70,528.20" stroke="#000" stroke-width="1.8" fill="none" />
<line x1="653.70" y1="383.30" x2="653.70" y2="529.10" stroke="#ff1f1f" stroke-width="1.8" />
<line x1="270.30" y1="500.90" x2="273.30" y2="500.90" stroke="#000" stroke-width="1.6" />
<text x="266.30" y="504.50" font-size="10.0" text-anchor="end" fill="#1a1a1a" >0</text>
<line x1="270.30" y1="470.95" x2="273.30" y2="470.95" stroke="#000" stroke-width="1.6" />
<text x="266.30" y="474.55" font-size="10.0" text-anchor="end" fill="#1a1a1a" >1</text>
<line x1="270.30" y1="441.00" x2="273.30" y2="441.00" stroke="#000" stroke-width="1.6" />
<text x="266.30" y="444.60" font-size="10.0" text-anchor="end" fill="#1a1a1a" >2</text>
<line x1="270.30" y1="411.05" x2="273.30" y2="411.05" stroke="#000" stroke-width="1.6" />
<text x="266.30" y="414.65" font-size="10.0" text-anchor="end" fill="#1a1a1a" >3</text>
<line x1="276.30" y1="528.20" x2="276.30" y2="531.20" stroke="#000" stroke-width="1.6" />
<text x="276.30" y="541.60" font-size="10.0" text-anchor="middle" fill="#1a1a1a" >0</text>
<line x1="341.58" y1="528.20" x2="341.58" y2="531.20" stroke="#000" stroke-width="1.6" />
<text x="341.58" y="541.60" font-size="10.0" text-anchor="middle" fill="#1a1a1a" >10</text>
<line x1="406.86" y1="528.20" x2="406.86" y2="531.20" stroke="#000" stroke-width="1.6" />
<text x="406.86" y="541.60" font-size="10.0" text-anchor="middle" fill="#1a1a1a" >20</text>
<line x1="472.14" y1="528.20" x2="472.14" y2="531.20" stroke="#000" stroke-width="1.6" />
<text x="472.14" y="541.60" font-size="10.0" text-anchor="middle" fill="#1a1a1a" >30</text>
<line x1="537.42" y1="528.20" x2="537.42" y2="531.20" stroke="#000" stroke-width="1.6" />
<text x="537.42" y="541.60" font-size="10.0" text-anchor="middle" fill="#1a1a1a" >40</text>
<line x1="602.70" y1="528.20" x2="602.70" y2="531.20" stroke="#000" stroke-width="1.6" />
<text x="602.70" y="541.60" font-size="10.0" text-anchor="middle" fill="#1a1a1a" >50</text>
<line x1="650.70" y1="486.80" x2="653.70" y2="486.80" stroke="#ff1f1f" stroke-width="1.6" />
<text x="657.00" y="490.40" font-size="10.0" text-anchor="start" fill="#ff1f1f" >2</text>
<line x1="650.70" y1="445.40" x2="653.70" y2="445.40" stroke="#ff1f1f" stroke-width="1.6" />
<text x="657.00" y="449.00" font-size="10.0" text-anchor="start" fill="#ff1f1f" >4</text>
<text x="468.30" y="561.50" font-size="12.1" text-anchor="middle" fill="#1a1a1a" >Time (h)</text>
<text transform="translate(246.0,462.2) rotate(-90)" font-size="12.1" text-anchor="middle" fill="#1a1a1a">Voltage (V)</text>
<text transform="translate(672.3,459.8) rotate(90)" font-size="12.0" text-anchor="middle" fill="#ff1f1f">FE<tspan dy="3.4" font-size="8.6">H<tspan dy="1.8" font-size="5.8">2</tspan></tspan><tspan dy="-5.2"> /FE</tspan><tspan dy="3.4" font-size="8.6">CO</tspan></text>
<text x="1.80" y="15.30" font-size="20" text-anchor="start" fill="#111" >a</text>
<text x="236.00" y="16.00" font-size="20" text-anchor="start" fill="#111" >b</text>
<text x="468.50" y="16.40" font-size="20" text-anchor="start" fill="#111" >c</text>
<text x="1.60" y="206.10" font-size="20" text-anchor="start" fill="#111" >d</text>
<text x="235.50" y="205.60" font-size="20" text-anchor="start" fill="#111" >e</text>
<text x="5.00" y="395.00" font-size="20" text-anchor="start" fill="#111" >f</text>
<text x="235.50" y="394.50" font-size="20" text-anchor="start" fill="#111" >g</text>
</svg></body></html>
